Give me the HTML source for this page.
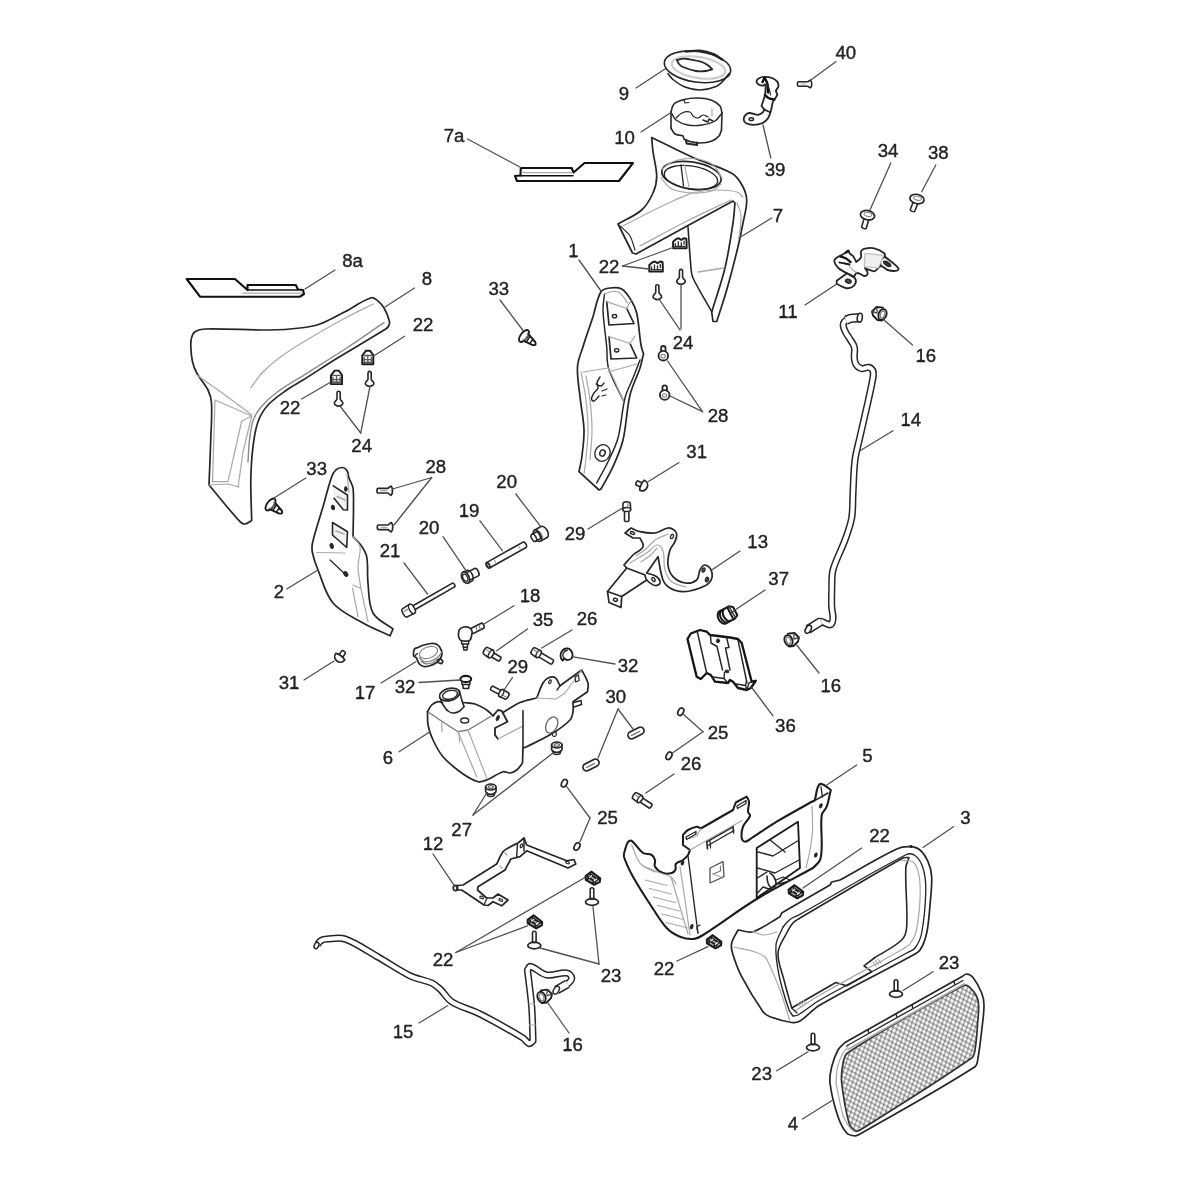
<!DOCTYPE html>
<html><head><meta charset="utf-8"><title>Parts diagram</title>
<style>
html,body{margin:0;padding:0;background:#fff;}
svg{display:block;filter:blur(0.4px)}
text{font-family:"Liberation Sans",sans-serif;font-size:18.6px;fill:#232323;stroke:#232323;stroke-width:0.4px;}
</style></head><body>
<svg width="1200" height="1200" viewBox="0 0 1200 1200" stroke-linejoin="round" stroke-linecap="round">
<defs>
<pattern id="meshA" width="10" height="4.5" patternUnits="userSpaceOnUse" patternTransform="rotate(29)">
<path d="M0 2.2H10" stroke="#000" stroke-opacity="0.34" stroke-width="1.5" fill="none"/>
</pattern>
<pattern id="meshB" width="10" height="4.1" patternUnits="userSpaceOnUse" patternTransform="rotate(109)">
<path d="M0 2H10" stroke="#000" stroke-opacity="0.34" stroke-width="1.5" fill="none"/>
</pattern>
</defs>
<rect width="1200" height="1200" fill="#fff"/>
<ellipse cx="697.5" cy="66.8" rx="33.5" ry="15.3" fill="none" stroke="#262626" stroke-width="1.59" transform="rotate(8 697.5 66.8)"/>
<ellipse cx="698.5" cy="67.5" rx="27" ry="10.5" fill="none" stroke="#cdcdcd" stroke-width="2.2" transform="rotate(9 698.5 67.5)"/>
<path d="M677 60C678.7 59.6 680.3 59 682 58.8C684 58.6 686 58.7 688 59C692.7 59.8 697.5 60.5 702 62C704.5 62.8 706.8 64.4 709 66C710.2 66.9 711 68.2 712 69.3" fill="none" stroke="#262626" stroke-width="1.83" />
<path d="M677 60C677.7 61.3 678 62.9 679 64C680.1 65.3 681.5 66.4 683 67C687.2 68.7 691.5 70.2 696 71C699.3 71.6 702.7 71.4 706 71C708.1 70.8 710 69.9 712 69.3" fill="none" stroke="#262626" stroke-width="1.83" />
<path d="M668 73.5C669.7 75.5 671 77.9 673 79.5C676.7 82.4 680.6 85.3 685 87C689.8 88.8 694.9 90.1 700 90C705.5 89.9 711 88.6 716 86.5C719.2 85.2 721.6 82.4 724 80C725.9 78.1 727.3 75.7 729 73.5" fill="none" stroke="#262626" stroke-width="1.59" />
<path d="M686 51.5C690.7 51.3 695.4 50.3 700 50.8C704.8 51.3 709.5 52.7 714 54.5C716.9 55.7 719.3 57.8 722 59.5" fill="none" stroke="#262626" stroke-width="2.44" />
<path d="M671 112C672 109.3 671.9 106 674 104C676.6 101.5 680.5 100.4 684 99.5C688.2 98.4 692.6 97.9 697 98C701.7 98.1 706.5 98.5 711 100C714.4 101.2 717.7 103.2 720 106C721.6 107.9 721.3 110.7 722 113" fill="none" stroke="#262626" stroke-width="1.59" />
<path d="M671 112C672.7 114.7 673.5 118.1 676 120C679.4 122.6 683.7 124.2 688 125C692.6 125.9 697.4 125.7 702 125C706.5 124.3 711.1 123.3 715 121C718 119.2 719.7 115.7 722 113" fill="none" stroke="#262626" stroke-width="1.34" />
<path d="M671 112L671 128" fill="none" stroke="#262626" stroke-width="1.59" />
<path d="M722 113L721.5 130" fill="none" stroke="#262626" stroke-width="1.59" />
<path d="M671 128C672.3 130 673 132.7 675 134C677.3 135.5 680.6 134.7 683 136C683.9 136.5 683.2 138.3 684 139C685.7 140.3 687.9 141 690 141.5C693.3 142.3 696.6 143.1 700 143C704.1 142.9 708.2 142.4 712 141C714.7 140 717.1 138.2 719 136C720.4 134.4 720.7 132 721.5 130" fill="none" stroke="#262626" stroke-width="1.59" />
<path d="M686 140L686.5 143.5L697 145L697 142.5" fill="none" stroke="#262626" stroke-width="1.95" />
<path d="M676 118C678 116.3 679.6 114 682 113C684.5 111.9 687.4 111.3 690 112C691.6 112.4 691.7 115 693 116C694.4 117.1 696.2 118.2 698 118C699.9 117.8 701.1 115.2 703 115C704.8 114.8 706.3 116.3 708 117" fill="none" stroke="#262626" stroke-width="1.22" />
<path d="M703 120L708 122L709 119L713 121" fill="none" stroke="#262626" stroke-width="1.46" />
<path d="M684 100L685 103L689 102.5" fill="none" stroke="#262626" stroke-width="1.22" />
<path d="M712 109L712 116" fill="none" stroke="#a9a9a9" stroke-width="1.22" />
<path d="M651.7 137.5C665.5 144.2 679 151.3 693 157.5C705.7 163.2 719.5 166.5 731.7 173.3C736.2 175.8 739.5 180.5 742 185C744.6 189.6 746.6 194.8 746.7 200C746.9 207.8 744.4 215.4 743 223C741.5 230.9 739.9 238.9 738 246.7C734.5 261.2 730.8 275.7 726.7 290C723.7 300.6 720 311 716.7 321.5L713 321.5L711.7 312C716.1 297.3 721.4 282.9 725 268C728.5 253.2 730.7 238.1 733 223C734 216.4 734.3 209.7 735 203L733 201C718 209.2 703 217.3 688 225.5C670.7 235 653.3 244.5 636 254L632.5 253L618 224C625.9 219.3 634.8 216.1 641.7 210C646.8 205.5 650.2 199.2 653 193C655.3 187.9 656.7 182.3 656.7 176.7C656.7 168.3 654.1 160.1 653 151.7C652.4 147 652.1 142.2 651.7 137.5Z" fill="none" stroke="#262626" stroke-width="1.71" />
<path d="M688 226.7C689 240.5 689.7 254.3 691 268C691.3 271.4 691.5 274.9 693 278C698.5 289.6 705.5 300.5 711.7 311.7" fill="none" stroke="#262626" stroke-width="1.59" />
<ellipse cx="691.5" cy="175.5" rx="30" ry="13.5" fill="none" stroke="#262626" stroke-width="1.71" transform="rotate(9 691.5 175.5)"/>
<ellipse cx="691" cy="177.5" rx="27" ry="11.5" fill="none" stroke="#262626" stroke-width="1.34" transform="rotate(9 691 177.5)"/>
<path d="M662.5 169C665.7 166.7 668.3 163.3 672 162C678.4 159.7 685.2 158.2 692 158.5C698.9 158.8 706.2 160.2 712 164C716.8 167.1 718.7 173.3 722 178" fill="none" stroke="#a9a9a9" stroke-width="1.22" />
<path d="M681 165L683.5 186" fill="none" stroke="#262626" stroke-width="1.34" />
<path d="M684.5 165L689 187" fill="none" stroke="#a9a9a9" stroke-width="1.22" />
<path d="M661 178C664.7 181.7 667.3 186.8 672 189C678.5 192 685.9 192.6 693 193C699.4 193.3 705.9 192.9 712 191C715.6 189.8 718 186.3 721 184" fill="none" stroke="#a9a9a9" stroke-width="1.22" />
<path d="M623 226C631.3 221.7 639.6 217.2 648 213C656.3 208.9 664.6 204.8 673 201C679.6 198 686.3 195.3 693 192.5" fill="none" stroke="#a9a9a9" stroke-width="1.22" />
<path d="M693 192.5C700.3 191.7 707.6 190.1 715 190C722.4 189.9 729.9 190.2 737 192C739.5 192.6 741 195.3 743 197" fill="none" stroke="#a9a9a9" stroke-width="1.22" />
<path d="M640 246C655.7 237.7 671.2 229 687 221C701.5 213.7 716.3 207 731 200" fill="none" stroke="#a9a9a9" stroke-width="1.22" />
<path d="M620 226C623.3 229.3 627.5 232 630 236C632.6 240.2 633.3 245.3 635 250" fill="none" stroke="#262626" stroke-width="1.22" />
<path d="M698 272L724 268" fill="none" stroke="#a9a9a9" stroke-width="1.46" />
<path d="M737 203C738.3 207 740.8 210.8 741 215C741.4 222.7 739.7 230.3 739 238" fill="none" stroke="#a9a9a9" stroke-width="1.22" />
<path d="M520.8 168L571.7 168L573.5 172.5L584.5 163L633 163L619 181L517 181L515 176L520.5 175.5Z" fill="none" stroke="#111" stroke-width="2.13" />
<path d="M521.5 172.7L572 172.7" fill="none" stroke="#a9a9a9" stroke-width="1.22" />
<path d="M520.5 175.8L573 175.8" fill="none" stroke="#111" stroke-width="1.59" />
<path d="M186.7 279L235 279L247.5 290L247.5 285L295.8 285L298 289.5L303 290L304 294L300 296.7L200 296.7Z" fill="none" stroke="#111" stroke-width="2.13" />
<path d="M247.5 290L298 290" fill="none" stroke="#111" stroke-width="1.59" />
<path d="M243 293.2L302 293.2" fill="none" stroke="#a9a9a9" stroke-width="1.22" />
<path d="M371.3 297.8C361.8 300.8 353.8 307.2 345 311.7C336.7 315.9 328.7 320.8 320 324C313.6 326.3 306.8 327.2 300 328C290 329.2 280 329.9 270 330C248.3 330.2 226.7 328.5 205 329C201.5 329.1 197.9 329.8 195 331.7C193 333 192.1 335.7 191.5 338C190.7 340.8 190.7 343.8 190.8 346.7C191 351.7 191.4 356.8 192.5 361.7C193.4 365.6 194.8 369.5 196.7 373C200 379 205 383.9 208 390C210 394 211.2 398.5 211.5 403C212.2 414.6 211.2 426.3 210.8 438C210.3 453.7 209.6 469.3 209 485C219.3 497.2 229.1 509.9 240 521.7C241.2 523 243.2 524.2 245 524C247.5 523.7 249.5 521.7 251.7 520.5C251.4 507 250.6 493.5 250.8 480C251 468.9 251.6 457.7 253 446.7C254 438.3 255.1 429.7 258 421.7C260.2 415.6 263.6 409.8 268 405C273.4 399.1 280.2 394.6 286.7 390C291.9 386.3 297.6 383.4 303 380C314.3 372.9 325.4 365.5 336.7 358.5C352.8 348.6 369.3 339.3 385.3 329.3C386.6 328.5 387.9 327.4 388.6 326C389.3 324.6 389.8 322.8 389.4 321.2C388.3 316.7 386.5 312.3 384.2 308.3C382.7 305.6 380.7 303.2 378.3 301.3C376.3 299.7 373.8 297 371.3 297.8Z" fill="none" stroke="#262626" stroke-width="1.71" />
<path d="M384 322.7C371.6 331.1 359.3 339.8 346.7 348C333.5 356.6 320 364.9 306.7 373.3C296.9 379.5 286.7 385.1 277.3 392C271.5 396.3 266 401.2 261.3 406.7C257.9 410.6 255 415.1 253.3 420C251 426.4 250.3 433.3 249.5 440C248.6 447.3 248.5 454.7 248 462" fill="none" stroke="#8c8c8c" stroke-width="1.46" />
<path d="M250.7 388C254.5 383 257.7 377.5 262 373C267.5 367.2 273.6 362 280 357.3C288.5 351 297.6 345.5 306.7 340C319.8 332.1 333.2 324.6 346.7 317.3C355.4 312.6 364.4 308.4 373.3 304" fill="none" stroke="#a9a9a9" stroke-width="1.22" />
<path d="M196.7 375C206.1 381.7 215.7 388.2 225 395C234 401.5 242.8 408.3 251.7 415" fill="none" stroke="#a9a9a9" stroke-width="1.22" />
<path d="M215 400L251.7 416L241.7 421L228 481.7L212.5 481.7L215 400" fill="none" stroke="#a9a9a9" stroke-width="1.22" />
<path d="M251.7 416L243 452L238 487" fill="none" stroke="#a9a9a9" stroke-width="1.22" />
<path d="M209 485L228 484L239 487" fill="none" stroke="#a9a9a9" stroke-width="1.22" />
<path d="M601 291.7C602.7 288.9 606.8 288.4 610 288C613.9 287.5 618.3 287.1 621.7 289C625.9 291.4 628.5 295.9 631 300C633.5 304 635.7 308.4 636.7 313C639 323.5 639.2 334.4 641 345C641.5 348.1 642.7 351 643.5 354C642.3 358.7 641.5 363.4 640 368C637 377.1 632.2 385.7 630 395C626.5 409.8 626.5 425.2 623 440C620.8 449.2 616.9 458 613 466.7C609.5 474.4 605 481.6 601 489L599 490L579 471.7C579.9 467.1 581.1 462.6 581.7 458C582.8 448.7 584.3 439.4 584 430C583.7 418.8 581.1 407.8 580 396.7C579 386.7 576.9 376.7 577.5 366.7C577.9 359.8 581 353.3 583 346.7C586.1 336.6 589.7 326.7 593 316.7C595.7 308.4 596.5 299.2 601 291.7Z" fill="none" stroke="#262626" stroke-width="1.71" />
<path d="M604.5 294C604 299.3 602.8 304.6 603 310C603.5 322.3 605.5 334.5 606.7 346.7C607.4 353.8 606.4 361.2 608.5 368C611.9 379.2 618.2 389.3 623 400" fill="none" stroke="#262626" stroke-width="1.46" />
<path d="M604.5 294C607 293.2 609.4 291.7 612 291.5C614.7 291.3 617.8 291.4 620 293C623.3 295.5 625 299.7 627.5 303" fill="none" stroke="#a9a9a9" stroke-width="1.22" />
<path d="M640 360C637.7 366 635.4 372 633 378C630.4 384.7 626.7 391 625 398C621.7 411.1 621.5 424.9 618 438C615.8 446.3 611.7 453.9 608 461.7C604.6 469 600.5 475.9 596.7 483" fill="none" stroke="#262626" stroke-width="1.46" />
<path d="M581 372C582.7 381.3 584.9 390.6 586 400C587.2 409.9 588 420 588 430C588 439.4 586.8 448.7 586 458C585.5 463.4 584.7 468.7 584 474" fill="none" stroke="#a9a9a9" stroke-width="1.22" />
<path d="M586 376C587.3 384 589.1 391.9 590 400C591.1 410 592 420 592 430C592 440 590.7 450 590 460" fill="none" stroke="#a9a9a9" stroke-width="1.22" />
<path d="M583 372L608 368" fill="none" stroke="#a9a9a9" stroke-width="1.22" />
<path d="M608 372L637 364" fill="none" stroke="#a9a9a9" stroke-width="1.22" />
<path d="M608.5 368L616 384L623 400" fill="none" stroke="#a9a9a9" stroke-width="1.22" />
<path d="M606.7 301.7L609 325L634 323.5L626.7 308.5" fill="none" stroke="#262626" stroke-width="1.71" />
<path d="M606.7 301.7L626.7 308.5" fill="none" stroke="#a9a9a9" stroke-width="1.22" />
<path d="M626.7 308.5L631 300.5" fill="none" stroke="#a9a9a9" stroke-width="1.22" />
<ellipse cx="614.5" cy="316.2" rx="2.2" ry="1.7" fill="none" stroke="#262626" stroke-width="1.34"/>
<path d="M609 336.7L611 359L636.7 358L630 343.5" fill="none" stroke="#262626" stroke-width="1.71" />
<path d="M609 336.7L630 343.5" fill="none" stroke="#a9a9a9" stroke-width="1.22" />
<path d="M630 343.5L635 336" fill="none" stroke="#a9a9a9" stroke-width="1.22" />
<ellipse cx="616.7" cy="350.3" rx="2.2" ry="1.7" fill="none" stroke="#262626" stroke-width="1.34"/>
<path d="M600 377C599 379 597.4 380.8 597 383C596.7 384.7 598.5 386.4 598 388C597.4 390 595.1 391.2 594 393C592.9 394.9 591.5 396.8 591.5 399C591.5 400.1 593 401.4 594 401C596.2 400.1 597.3 397.7 599 396" fill="none" stroke="#262626" stroke-width="1.46" />
<path d="M596 384C597.7 384.7 599.2 386.2 601 386C602.4 385.8 603 384 604 383" fill="none" stroke="#262626" stroke-width="1.34" />
<path d="M602 391L607 389" fill="none" stroke="#262626" stroke-width="1.22" />
<path d="M602 396L606 395" fill="none" stroke="#262626" stroke-width="1.22" />
<ellipse cx="602.5" cy="453" rx="7.5" ry="8.5" fill="none" stroke="#262626" stroke-width="1.34" transform="rotate(25 602.5 453)"/>
<ellipse cx="602.5" cy="453" rx="2.6" ry="3.2" fill="none" stroke="#262626" stroke-width="1.46" transform="rotate(25 602.5 453)"/>
<path d="M341.7 467.5C343.6 467.5 345.6 468.5 346.7 470C348.3 472.3 348.1 475.4 349 478C350.2 481.4 352.5 484.4 353 488C354 495.9 353.3 504 353.5 512L353 536.7C355.6 539.5 358.7 541.9 360.8 545C363.3 548.6 365.9 552.4 366.7 556.7C368.3 565.3 367 574.3 368 583C369.1 593.1 368.2 604.1 373 613C377.1 620.5 386.3 623.7 393 629L390 635.8C381 631.5 371.6 628 363 623C352.6 617 340.8 612.2 333 603C325.2 593.8 322.6 581.2 318 570C315.7 564.5 313.7 558.8 312.5 553C311.8 549.7 311.8 546.3 312.5 543C315.3 530.7 319.5 518.8 323 506.7C325.9 496.7 328.3 486.5 331.7 476.7C332.6 474.2 333.9 471.8 335.8 470C337.4 468.6 339.6 467.5 341.7 467.5Z" fill="none" stroke="#262626" stroke-width="1.71" />
<path d="M333.3 485.8L347.5 495L347.5 510L343.3 509.7L334 498.3" fill="#f1f1f1" stroke="#262626" stroke-width="1.59" />
<path d="M337 496.5L345 500" fill="none" stroke="#a9a9a9" stroke-width="1.46" />
<path d="M332.5 522.5L347.5 531.7L346.7 547.5L332.5 535Z" fill="#f1f1f1" stroke="#262626" stroke-width="1.59" />
<path d="M336 531L344 534" fill="none" stroke="#a9a9a9" stroke-width="1.46" />
<ellipse cx="333" cy="507.5" rx="1.5" ry="2.3" fill="#262626" stroke="#262626" stroke-width="0.98" transform="rotate(-15 333 507.5)"/>
<ellipse cx="331.7" cy="546" rx="1.6" ry="2.5" fill="#262626" stroke="#262626" stroke-width="0.98" transform="rotate(-15 331.7 546)"/>
<ellipse cx="345.8" cy="574" rx="1.8" ry="2.6" fill="#262626" stroke="#262626" stroke-width="0.98" transform="rotate(-35 345.8 574)"/>
<ellipse cx="345.8" cy="489" rx="1.3" ry="2.4" fill="#262626" stroke="#262626" stroke-width="0.98"/>
<path d="M316.7 552.5L345 553" fill="none" stroke="#a9a9a9" stroke-width="1.22" />
<path d="M330 560L345 574" fill="none" stroke="#262626" stroke-width="1.22" />
<path d="M353 536.7C355.3 540 359.3 542.7 360 546.7C361.1 553.3 357.9 560 358 566.7C358.1 573.9 359.9 580.9 360.8 588" fill="none" stroke="#a9a9a9" stroke-width="1.22" />
<path d="M353 585L360 588" fill="none" stroke="#a9a9a9" stroke-width="1.22" />
<path d="M352.5 588L358 616.7" fill="none" stroke="#a9a9a9" stroke-width="1.22" />
<path d="M360.8 588L368 621.7" fill="none" stroke="#a9a9a9" stroke-width="1.22" />
<path d="M347 474L349 492" fill="none" stroke="#a9a9a9" stroke-width="1.22" />
<path d="M625 533L631 528C634 529.2 636.8 531 640 531.7C644.9 532.7 650 533.7 655 533C659.6 532.4 663.4 528.7 668 528C670.1 527.7 672.3 528.8 674 530C675.3 530.9 676.6 532.4 676.7 534C676.9 536.6 676 539.3 675 541.7C673.8 544.7 670.9 546.9 670 550C668.5 554.8 667.4 560 668 565C668.5 569.2 670.1 573.6 673 576.7C676.1 580 680.5 582.4 685 583C689 583.6 693.7 582.6 696.7 580C699.4 577.7 698.3 573.1 700 570C701.1 567.9 702.7 564.7 705 565C708.1 565.5 710.8 568.7 711.7 571.7C712.7 574.9 712 579 710 581.7C707.7 584.9 703.7 586.6 700 588C694.6 590 688.8 591.7 683 591.7C678.5 591.7 673.9 590.3 670 588C666.9 586.2 664.3 583.3 663 580C660.2 572.6 659.7 564.5 658 556.7L646.7 573C650 574.2 653.9 574.6 656.7 576.7C658.6 578.1 660.4 580.7 660 583C659.6 584.8 656.8 585.9 655 585.5C651.8 584.8 649 582.4 646.7 580C645.5 578.7 645.6 576.7 645 575L626.7 568L624 565C627 561.7 629.8 558.1 633 555C636.1 552 641.4 550.7 643 546.7C644.2 543.9 641 540.9 640 538L633 538L625 533Z" fill="none" stroke="#262626" stroke-width="1.71" />
<path d="M636 556C639.3 553.7 642.9 551.6 646 549C649.2 546.3 651.5 542.4 655 540C658.9 537.3 663.7 536 668 534" fill="none" stroke="#a9a9a9" stroke-width="1.22" />
<path d="M630 563C636 559.3 642.1 555.9 648 552C651.2 549.9 653.2 545.3 657 545C659.8 544.8 662.1 548.3 663 551C664.9 557.1 663.2 563.9 665 570C666.3 574.4 668.4 579.1 672 582C675.9 585.1 681.3 585.3 686 587" fill="none" stroke="#a9a9a9" stroke-width="1.22" />
<path d="M641 562C644.7 559.3 648.6 557 652 554C654 552.3 655.3 550 657 548" fill="none" stroke="#a9a9a9" stroke-width="1.22" />
<path d="M626.7 568L607.5 591.5" fill="none" stroke="#262626" stroke-width="1.71" />
<path d="M607.5 591.5L609 602.5L621 607.5L621.7 596.5Z" fill="none" stroke="#262626" stroke-width="1.71" />
<path d="M646.7 580L621.7 596.5" fill="none" stroke="#262626" stroke-width="1.71" />
<ellipse cx="615.5" cy="599.8" rx="2" ry="1.5" fill="none" stroke="#262626" stroke-width="1.46" transform="rotate(20 615.5 599.8)"/>
<ellipse cx="632.5" cy="533" rx="2.2" ry="1.3" fill="none" stroke="#262626" stroke-width="1.34" transform="rotate(20 632.5 533)"/>
<ellipse cx="672" cy="536.5" rx="1.4" ry="2.2" fill="none" stroke="#262626" stroke-width="1.34" transform="rotate(20 672 536.5)"/>
<ellipse cx="653.5" cy="579.5" rx="1.4" ry="2.2" fill="none" stroke="#262626" stroke-width="1.34" transform="rotate(-30 653.5 579.5)"/>
<ellipse cx="703.5" cy="570" rx="1.3" ry="2.2" fill="#555" stroke="#262626" stroke-width="1.34" transform="rotate(20 703.5 570)"/>
<ellipse cx="707" cy="579.5" rx="1.5" ry="2.3" fill="#555" stroke="#262626" stroke-width="1.34" transform="rotate(20 707 579.5)"/>
<path d="M687.5 639L690.8 633.5L700 630L706.7 631.7L710 635L730 637.5L738 639L741.7 643L751.7 681.7L755.8 680.8L750.8 688L746.7 690L738 688L733 681.7L730 680L728 683L715 681.7L710.8 675L706.7 673L700.8 679L696.7 676.7Z" fill="none" stroke="#151515" stroke-width="2.32" />
<path d="M697.5 632.5L706.7 673" fill="none" stroke="#262626" stroke-width="1.46" />
<path d="M710.5 635.5L711 643L717 646.5L722.5 670" fill="none" stroke="#262626" stroke-width="1.46" />
<path d="M726.7 638L729 647.5L725.5 648L730 670" fill="none" stroke="#262626" stroke-width="1.46" />
<path d="M738 640L747 683" fill="none" stroke="#262626" stroke-width="1.46" />
<path d="M713 677L724 678.5L728 683" fill="none" stroke="#262626" stroke-width="1.34" />
<path d="M724 678.5L724.5 672" fill="none" stroke="#262626" stroke-width="1.34" />
<path d="M736 684L745.5 685.5L746.7 690" fill="none" stroke="#262626" stroke-width="1.34" />
<path d="M745.5 685.5L746.5 681" fill="none" stroke="#262626" stroke-width="1.34" />
<path d="M746.7 690L749 683L751.7 681.7" fill="none" stroke="#262626" stroke-width="1.34" />
<ellipse cx="718" cy="640.8" rx="1.6" ry="1.9" fill="#262626" stroke="#262626" stroke-width="0.98"/>
<path d="M725.7 670.2L728.3 670.2L728.6 672.6L726 672.6Z" fill="#262626" stroke="#262626" stroke-width="0.98" />
<path d="M427.5 711.7C428.9 709.5 429.8 706.8 431.7 705C433.4 703.4 435.7 702.2 438 701.7C439.5 701.4 441 702.2 442.5 702.5" fill="none" stroke="#262626" stroke-width="1.71" />
<path d="M463.5 702.5C467.3 703 471.3 702.8 475 704C479.2 705.3 483 707.6 486.7 710C489.1 711.6 490.9 713.9 493 715.8" fill="none" stroke="#262626" stroke-width="1.71" />
<path d="M427.5 711.7C427.7 716.1 427.2 720.6 428 725C429 730.2 430.7 735.2 433 740C435.8 745.9 438.7 751.8 443 756.7C448.4 762.9 455 768.2 461.7 773C466.7 776.6 472.1 780 478 781.7C480.8 782.5 484 781.1 486.7 780C492.4 777.7 497.2 773.5 503 771.7C505.3 771 507.6 773.3 510 773C512.4 772.7 514.8 771.5 516.7 770C519.1 768.1 520.6 765.3 522.5 763L523 748" fill="none" stroke="#262626" stroke-width="1.71" />
<ellipse cx="449.5" cy="694.5" rx="10.2" ry="6" fill="none" stroke="#262626" stroke-width="1.71" transform="rotate(-14 449.5 694.5)"/>
<ellipse cx="450" cy="694.8" rx="7.6" ry="4.2" fill="none" stroke="#262626" stroke-width="1.34" transform="rotate(-14 450 694.8)"/>
<path d="M440.5 699C441 700.3 441.3 701.8 442 703C443.4 705.4 445.1 707.7 446.7 710" fill="none" stroke="#262626" stroke-width="1.59" />
<path d="M459.5 691C460.2 693.7 460.7 696.4 461.5 699C462.2 701.6 463.2 704.1 464 706.7" fill="none" stroke="#262626" stroke-width="1.59" />
<path d="M446.7 710C448.5 711 450 712.8 452 713C454.4 713.3 456.9 712.6 459 711.5C461 710.4 462.3 708.3 464 706.7" fill="none" stroke="#262626" stroke-width="1.46" />
<path d="M429 712.5C433.7 715.7 438.3 718.9 443 722C448 725.3 453 728.5 458 731.7L468 730C472 727.7 476 725.4 480 723C483.5 720.9 487 718.7 490.5 716.5" fill="none" stroke="#777" stroke-width="1.34" />
<path d="M458 731.7L476.7 776.7" fill="none" stroke="#a9a9a9" stroke-width="1.22" />
<path d="M468 730L486.7 778" fill="none" stroke="#a9a9a9" stroke-width="1.22" />
<path d="M441.7 722L442 732" fill="none" stroke="#a9a9a9" stroke-width="1.22" />
<path d="M459 733L459.5 742" fill="none" stroke="#a9a9a9" stroke-width="1.22" />
<ellipse cx="464.7" cy="720.5" rx="4" ry="2.5" fill="none" stroke="#262626" stroke-width="1.34"/>
<path d="M493 715.8L498 710L501.7 710.8L507.5 721.7L495 728L495 735L498 739" fill="none" stroke="#262626" stroke-width="1.83" />
<path d="M498 739L523 726" fill="none" stroke="#a9a9a9" stroke-width="1.22" />
<ellipse cx="497.8" cy="718" rx="1.2" ry="2.6" fill="#262626" stroke="#262626" stroke-width="0.98" transform="rotate(25 497.8 718)"/>
<path d="M523 710.8L523 748" fill="none" stroke="#262626" stroke-width="1.59" />
<path d="M503 712.5C508.7 709.2 514 705.1 520 702.5C525.3 700.2 531.1 699.5 536.7 698C538.8 693 540.3 687.7 543 683C544.2 680.9 545.9 679 548 678C550.1 677 553 676.2 555 677.5C557.7 679.3 558.3 683 560 685.8L581.7 670C583.8 674.3 586.8 678.3 588 683C588.8 685.8 587.7 688.8 587.5 691.7L573 701.7C573 705 573.5 708.4 573 711.7C572.5 714.6 572 717.9 570 720C565.1 725.2 559.1 729.3 553 733C544.6 738.2 535.5 742.3 526.7 746.7C525.5 747.3 524.2 747.6 523 748" fill="none" stroke="#262626" stroke-width="1.71" />
<path d="M574 702.5L581 700.5L581.5 704.5L574 707" fill="none" stroke="#262626" stroke-width="1.46" />
<path d="M536.7 698L556 699L565 693L581.7 670" fill="none" stroke="#a9a9a9" stroke-width="1.22" />
<path d="M560 685.8L557 690" fill="none" stroke="#262626" stroke-width="1.34" />
<ellipse cx="551.7" cy="725" rx="5.5" ry="8.5" fill="none" stroke="#666" stroke-width="1.34" transform="rotate(25 551.7 725)"/>
<ellipse cx="550" cy="681.7" rx="1.1" ry="2" fill="none" stroke="#262626" stroke-width="1.22" transform="rotate(25 550 681.7)"/>
<path d="M575 676.5L578.5 675L579.2 680.5L575.7 682Z" fill="none" stroke="#262626" stroke-width="1.22" />
<path d="M552 733C552.3 734 552.1 735.4 553 736C553.9 736.5 555.4 736.3 556 735.5C556.7 734.4 556 732.8 556 731.5" fill="none" stroke="#262626" stroke-width="1.22" />
<path d="M457 885.5L463 885L496.7 864C498.8 859.9 500.2 855.3 503 851.7C504.7 849.5 507.6 848.4 510 847C512.6 845.5 515.3 844.3 518 843L524 838L526.7 845L566.7 860.8L574 859.5L575.8 864L568 868L526.7 850.8L520 856.7L510.8 859L505 870L478 886.7L477.5 890L486.7 898L493 898L498 894L508 900L501.7 905.8L493 901.7L488 905.5L484 905L461.7 890L457 890L457 885.5Z" fill="none" stroke="#262626" stroke-width="1.71" />
<path d="M517.5 844L516.7 856.5" fill="none" stroke="#262626" stroke-width="1.46" />
<path d="M524 838L524 851" fill="none" stroke="#262626" stroke-width="1.46" />
<ellipse cx="455.5" cy="888" rx="2.3" ry="2.6" fill="none" stroke="#262626" stroke-width="1.59"/>
<ellipse cx="521.5" cy="845.8" rx="1.1" ry="2" fill="none" stroke="#262626" stroke-width="1.22" transform="rotate(25 521.5 845.8)"/>
<ellipse cx="567.5" cy="862.5" rx="2" ry="1.1" fill="none" stroke="#262626" stroke-width="1.22" transform="rotate(25 567.5 862.5)"/>
<ellipse cx="500.8" cy="900" rx="2" ry="1.1" fill="none" stroke="#262626" stroke-width="1.22" transform="rotate(25 500.8 900)"/>
<ellipse cx="481.7" cy="897.5" rx="2" ry="1.1" fill="none" stroke="#262626" stroke-width="1.22" transform="rotate(25 481.7 897.5)"/>
<path d="M484 905L487 898" fill="none" stroke="#262626" stroke-width="1.22" />
<path d="M505 853L507 855" fill="none" stroke="#a9a9a9" stroke-width="1.22" />
<path d="M500 866L502 868" fill="none" stroke="#a9a9a9" stroke-width="1.22" />
<path d="M859 317.8C856 318 852.9 317.8 850 318.5C848 319 845.9 319.9 844.5 321.5C843.5 322.7 843.1 324.5 843.3 326C843.6 328.5 844.9 330.8 846 333C847 334.9 848.4 336.6 849.5 338.5C851.2 341.3 853.5 343.8 854.3 347C855.2 350.6 853.9 354.4 854.3 358C854.5 360.2 854.7 362.6 856 364.5C857.3 366.4 859.3 368.1 861.5 368.6C863.9 369.1 866.3 367 868.7 367.3C870.2 367.5 871.7 368.7 872.5 370C873.4 371.4 873.4 373.3 873.3 375C873.2 377.7 872.5 380.4 872 383C870.8 389.3 869.4 395.5 868 401.7C865.4 413.4 862.6 425 860 436.7C858.3 444.5 856 452.1 855 460C853.6 470.9 853.6 482 853 493C852.5 501.3 853.1 509.8 851.7 518C850.4 525.6 847.6 532.8 845 540C841.4 550.1 835.8 559.6 833 570C831.3 576.5 832.1 583.3 831.7 590" fill="none" stroke="#262626" stroke-width="7.2" stroke-linecap="butt" stroke-linejoin="round"/>
<path d="M859 317.8C856 318 852.9 317.8 850 318.5C848 319 845.9 319.9 844.5 321.5C843.5 322.7 843.1 324.5 843.3 326C843.6 328.5 844.9 330.8 846 333C847 334.9 848.4 336.6 849.5 338.5C851.2 341.3 853.5 343.8 854.3 347C855.2 350.6 853.9 354.4 854.3 358C854.5 360.2 854.7 362.6 856 364.5C857.3 366.4 859.3 368.1 861.5 368.6C863.9 369.1 866.3 367 868.7 367.3C870.2 367.5 871.7 368.7 872.5 370C873.4 371.4 873.4 373.3 873.3 375C873.2 377.7 872.5 380.4 872 383C870.8 389.3 869.4 395.5 868 401.7C865.4 413.4 862.6 425 860 436.7C858.3 444.5 856 452.1 855 460C853.6 470.9 853.6 482 853 493C852.5 501.3 853.1 509.8 851.7 518C850.4 525.6 847.6 532.8 845 540C841.4 550.1 835.8 559.6 833 570C831.3 576.5 832.1 583.3 831.7 590" fill="none" stroke="#fff" stroke-width="4.2" stroke-linecap="butt" stroke-linejoin="round"/>
<path d="M831.7 590C831.7 595.6 831.4 601.1 831.7 606.7C831.9 610.5 833.1 614.2 833 618C832.9 620.3 832.8 623.1 831 624.5C829.7 625.6 827.6 623.9 826 623.5C824 622.9 822 620.9 820 621.5C815.8 622.7 812.7 626.2 809 628.5" fill="none" stroke="#262626" stroke-width="7.2" stroke-linecap="butt" stroke-linejoin="round"/>
<path d="M831.7 590C831.7 595.6 831.4 601.1 831.7 606.7C831.9 610.5 833.1 614.2 833 618C832.9 620.3 832.8 623.1 831 624.5C829.7 625.6 827.6 623.9 826 623.5C824 622.9 822 620.9 820 621.5C815.8 622.7 812.7 626.2 809 628.5" fill="none" stroke="#fff" stroke-width="4.2" stroke-linecap="butt" stroke-linejoin="round"/>
<path d="M859.5 317.7C856.7 317.9 853.8 317.8 851 318.3C849.2 318.6 847.7 319.6 846 320.3" fill="none" stroke="#262626" stroke-width="9.4" stroke-linecap="butt" stroke-linejoin="round"/>
<path d="M859.5 317.7C856.7 317.9 853.8 317.8 851 318.3C849.2 318.6 847.7 319.6 846 320.3" fill="none" stroke="#fff" stroke-width="6.4" stroke-linecap="butt" stroke-linejoin="round"/>
<path d="M808 629.5C812.3 626.8 816.7 624 821 621.3" fill="none" stroke="#262626" stroke-width="9.2" stroke-linecap="butt" stroke-linejoin="round"/>
<path d="M808 629.5C812.3 626.8 816.7 624 821 621.3" fill="none" stroke="#fff" stroke-width="6.199999999999999" stroke-linecap="butt" stroke-linejoin="round"/>
<ellipse cx="859.8" cy="317.7" rx="2.5" ry="4.5" fill="#fff" stroke="#262626" stroke-width="1.59" transform="rotate(8 859.8 317.7)"/>
<ellipse cx="808.3" cy="629.3" rx="2.6" ry="4.4" fill="#fff" stroke="#262626" stroke-width="1.59" transform="rotate(30 808.3 629.3)"/>
<path d="M317.5 944.5C318.7 943.2 319.5 941.4 321 940.5C322.8 939.5 324.9 939.1 327 939C333 938.6 339.3 937 345 939C356.8 943.2 367.1 950.8 378 957C388.8 963.1 398.9 970.4 410 975.8C416.9 979.1 424.7 979.9 431.7 983C434.8 984.4 437.5 986.7 440 989C444.2 992.9 446.8 998.6 451.7 1001.7C460.4 1007.2 470.8 1009.3 480 1014C494.6 1021.4 508.9 1029.5 523 1038C525.3 1039.4 526.4 1042.7 529 1043.5C530.5 1044 531.7 1041.8 533 1041C532.6 1029.6 532.6 1018.1 531.7 1006.7C530.7 994.4 528.9 982.2 527.5 970C528.5 968.8 529 966.1 530.5 966.5C536.4 968 540.7 973.9 546.7 975C553.3 976.2 560 972.2 566.7 973C569 973.3 571.5 975.6 571.7 978C571.9 980.4 569.4 982.4 567.5 984C565.7 985.5 563.2 986 561 987" fill="none" stroke="#262626" stroke-width="7.2" stroke-linecap="butt" stroke-linejoin="round"/>
<path d="M317.5 944.5C318.7 943.2 319.5 941.4 321 940.5C322.8 939.5 324.9 939.1 327 939C333 938.6 339.3 937 345 939C356.8 943.2 367.1 950.8 378 957C388.8 963.1 398.9 970.4 410 975.8C416.9 979.1 424.7 979.9 431.7 983C434.8 984.4 437.5 986.7 440 989C444.2 992.9 446.8 998.6 451.7 1001.7C460.4 1007.2 470.8 1009.3 480 1014C494.6 1021.4 508.9 1029.5 523 1038C525.3 1039.4 526.4 1042.7 529 1043.5C530.5 1044 531.7 1041.8 533 1041C532.6 1029.6 532.6 1018.1 531.7 1006.7C530.7 994.4 528.9 982.2 527.5 970C528.5 968.8 529 966.1 530.5 966.5C536.4 968 540.7 973.9 546.7 975C553.3 976.2 560 972.2 566.7 973C569 973.3 571.5 975.6 571.7 978C571.9 980.4 569.4 982.4 567.5 984C565.7 985.5 563.2 986 561 987" fill="none" stroke="#fff" stroke-width="4.2" stroke-linecap="butt" stroke-linejoin="round"/>
<path d="M556.5 990C560.2 987.9 563.8 985.9 567.5 983.8" fill="none" stroke="#262626" stroke-width="9.2" stroke-linecap="butt" stroke-linejoin="round"/>
<path d="M556.5 990C560.2 987.9 563.8 985.9 567.5 983.8" fill="none" stroke="#fff" stroke-width="6.199999999999999" stroke-linecap="butt" stroke-linejoin="round"/>
<ellipse cx="316.5" cy="945.5" rx="2.2" ry="3.3" fill="#fff" stroke="#262626" stroke-width="1.46" transform="rotate(25 316.5 945.5)"/>
<ellipse cx="556.3" cy="990.2" rx="2.6" ry="4.3" fill="#fff" stroke="#262626" stroke-width="1.46" transform="rotate(30 556.3 990.2)"/>
<path d="M529 1004L534.5 1004" fill="none" stroke="#a9a9a9" stroke-width="1.22" />
<path d="M529.5 1025L535 1025" fill="none" stroke="#a9a9a9" stroke-width="1.22" />
<path d="M625 850C625.7 847.3 626.3 844.3 628 842C628.8 841 630.7 840 631.7 840.8C636.2 844.1 638.5 849.8 643 853C645.4 854.7 649.1 853.5 651.7 855C653.4 856 654.5 858.1 655 860C655.6 862.1 653.8 864.8 655 866.7C656.8 869.6 659.8 871.8 663 873C665.7 874 668.9 873.8 671.7 873C673.4 872.5 674.8 871.1 675.5 869.5C676.3 867.8 674.7 865.4 675.8 864C677.5 861.8 680.8 861.6 683 860C684.9 858.6 686.6 856.9 688 855C689 853.5 689.3 851.7 690 850L683 845L683 835C684.7 833.3 686 831.2 688 830C690.7 828.4 693.6 827.1 696.7 826.7C698.2 826.5 699.4 827.9 700.8 828.5L733 810L735.8 802.5L746.7 796.7C747.5 798.4 748.8 799.9 749 801.7C749.3 805 747.8 808.4 748 811.7C748.1 813.2 750.5 814.4 750 815.8C748.6 819.9 744.5 822.7 743 826.7C741.7 830.3 741.2 834.2 741.7 838C741.9 839.6 743.3 841.7 745 841.7C747.6 841.7 749.5 839.4 751.7 838C760.1 832.7 768.2 826.8 776.7 821.7C789.3 814.1 802.2 807.2 815 800C816 795.6 816.2 790.9 818 786.7C818.6 785.3 820.2 783.6 821.7 784C825.2 784.9 827.8 788 830.8 790C829.4 795.6 828.7 801.3 826.7 806.7C825.6 809.7 822.1 811.8 821.7 815C820.4 825.5 822.1 836.1 821.7 846.7C821.5 851.2 821.7 855.9 820 860C818.7 863.3 815.3 865.3 813 868C794.2 878.3 775 887.9 756.7 899C738.3 910.2 721.3 923.5 703 935C700 936.9 696.6 938.7 693 939C688.6 939.3 684.1 938.4 680 936.7C675.1 934.7 670.3 931.9 666.7 928C660.7 921.7 656.5 914 651.7 906.7C645.2 896.9 638.7 887 633 876.7C629.5 870.3 626.1 863.7 624 856.7C623.4 854.5 624.4 852.2 625 850Z" fill="none" stroke="#1c1c1c" stroke-width="2.07" />
<path d="M813 801.7L828 793" fill="none" stroke="#262626" stroke-width="1.46" />
<path d="M821 787L822.5 797" fill="none" stroke="#262626" stroke-width="1.34" />
<path d="M688 855.8C689.7 868.9 691.3 881.9 693 895C694.6 907.7 696.3 920.3 698 933" fill="none" stroke="#262626" stroke-width="1.34" />
<path d="M680 866.7C681.7 877.8 683.4 888.9 685 900C686.7 911.7 688.3 923.3 690 935" fill="none" stroke="#a9a9a9" stroke-width="1.22" />
<path d="M698 933C697.7 931 696.5 929 697 927C697.3 925.8 699 925.7 700 925" fill="none" stroke="#262626" stroke-width="1.22" />
<path d="M631.7 845C633.8 850 635.4 855.2 638 860C639.2 862.3 640.9 864.5 643 866C646.7 868.6 651 870 655 872" fill="none" stroke="#a9a9a9" stroke-width="1.22" />
<path d="M643 866C648.7 868.3 654.3 870.8 660 873C663.6 874.4 667.8 874.8 671 877C673.4 878.6 674.3 881.7 676 884" fill="none" stroke="#a9a9a9" stroke-width="1.22" />
<path d="M671 877L688 934" fill="none" stroke="#a9a9a9" stroke-width="1.22" />
<path d="M645 880L667 885.5" fill="none" stroke="#a9a9a9" stroke-width="1.22" />
<path d="M649.2 888.5L671.2 894" fill="none" stroke="#a9a9a9" stroke-width="1.22" />
<path d="M653.4 897L675.4 902.5" fill="none" stroke="#a9a9a9" stroke-width="1.22" />
<path d="M657.6 905.5L679.6 911" fill="none" stroke="#a9a9a9" stroke-width="1.22" />
<path d="M661.8 914L683.8 919.5" fill="none" stroke="#a9a9a9" stroke-width="1.22" />
<path d="M666 922.5L688 928" fill="none" stroke="#a9a9a9" stroke-width="1.22" />
<path d="M756.7 848L798 821.7L800 868L756.7 898Z" fill="none" stroke="#1c1c1c" stroke-width="1.83" />
<path d="M758 852L773 856L797.5 841" fill="none" stroke="#262626" stroke-width="1.34" />
<path d="M770 840L785 852" fill="none" stroke="#262626" stroke-width="1.34" />
<path d="M757.5 868L775 873L799 860" fill="none" stroke="#262626" stroke-width="1.34" />
<path d="M757.5 878L767 872" fill="none" stroke="#262626" stroke-width="1.34" />
<path d="M757.5 893L763 887L772 890" fill="none" stroke="#262626" stroke-width="1.34" />
<path d="M767 876C767.3 878.3 767.1 880.8 768 883C768.8 885 769.9 887.7 772 888C773.9 888.2 775.7 885.9 776 884C776.4 881.6 775.2 879.1 774 877C773.1 875.3 771.3 874.3 770 873" fill="none" stroke="#262626" stroke-width="1.59" />
<path d="M776 880L783 877L790 880" fill="none" stroke="#262626" stroke-width="1.34" />
<path d="M779 884L786 882" fill="none" stroke="#262626" stroke-width="1.34" />
<path d="M710 868L723 861.7L724 876.7L710 883Z" fill="none" stroke="#555" stroke-width="1.34" />
<path d="M713 874L720.5 871L720.5 866" fill="none" stroke="#777" stroke-width="1.22" />
<path d="M713 874L721 877" fill="none" stroke="#a9a9a9" stroke-width="1.22" />
<path d="M706.7 841.7L733 826.7" fill="none" stroke="#262626" stroke-width="1.95" />
<path d="M708 845.5L734 830.5" fill="none" stroke="#262626" stroke-width="1.34" />
<path d="M706.7 841.7L707.5 849" fill="none" stroke="#262626" stroke-width="1.59" />
<path d="M733 826.7L733.5 833" fill="none" stroke="#262626" stroke-width="1.59" />
<path d="M710 841L710.5 848" fill="none" stroke="#262626" stroke-width="1.22" />
<path d="M690 850L742 820.5" fill="none" stroke="#a9a9a9" stroke-width="1.22" />
<path d="M700.8 828.5L697 836L690 838.5" fill="none" stroke="#a9a9a9" stroke-width="1.22" />
<path d="M686 837L696 831.5L696 834L686.5 839.5Z" fill="none" stroke="#262626" stroke-width="1.34" />
<path d="M737 806L746 800.5L746 803.5L737.5 808.5Z" fill="none" stroke="#262626" stroke-width="1.34" />
<ellipse cx="682.5" cy="863" rx="1.2" ry="2.2" fill="#262626" stroke="#262626" stroke-width="0.98" transform="rotate(25 682.5 863)"/>
<ellipse cx="691.7" cy="926.7" rx="1.2" ry="2.2" fill="#262626" stroke="#262626" stroke-width="0.98" transform="rotate(25 691.7 926.7)"/>
<ellipse cx="820.8" cy="805.8" rx="1.2" ry="2.2" fill="#262626" stroke="#262626" stroke-width="0.98" transform="rotate(25 820.8 805.8)"/>
<ellipse cx="815.8" cy="855" rx="1.2" ry="2.2" fill="#262626" stroke="#262626" stroke-width="0.98" transform="rotate(25 815.8 855)"/>
<path d="M812 806C812.2 814 812.9 822 812.5 830C812.2 836.7 811.1 843.4 810 850C809 856.1 807.3 862 806 868" fill="none" stroke="#a9a9a9" stroke-width="1.22" />
<path d="M738 930C743 930.6 748.2 933.2 753 931.7C762.8 928.6 771 921.7 780 916.7L781.7 913L786.7 910L830 885L831.7 882L840 880C858.9 869.7 877.2 858.3 896.7 849C900.8 847.1 905.5 846.5 910 846.7C913.5 846.9 917.3 847.8 920 850C923.6 853 926.1 857.4 928 861.7C930.1 866.4 931.5 871.6 931.7 876.7C932.1 886.1 930.8 895.6 930 905C929.2 914.4 928.7 923.8 926.7 933C925.4 938.9 923.5 945 920 950C917.7 953.3 913.5 954.8 910 956.7C880.2 973.1 849.4 987.8 820 1005C812.6 1009.3 807.3 1016.5 800 1021C797.6 1022.5 794.5 1022.9 791.7 1022.5C784.3 1021.4 777 1019.3 770 1016.7C767.3 1015.7 764.7 1014 763 1011.7C755.1 1000.6 748 988.8 741.7 976.7C737.8 969.2 734.9 961.1 732.5 953C731.5 949.8 730.9 946.3 731.7 943C732.8 938.3 735.9 934.3 738 930Z" fill="none" stroke="#262626" stroke-width="1.71" />
<path d="M786.7 933C788.5 929.5 790.4 925.9 793 923C794.9 920.9 797.7 919.7 800 918C834.3 898 868.3 877.3 903 858C904.8 857 907 857.7 909 857.5C907.9 861 905.9 864.3 905.8 868C905.1 887.6 907.8 907.2 906.7 926.7C906.4 931.4 905.1 936.7 901.7 940C894.1 947.4 883.9 951.7 875 957.5L864 965.8L871.7 971.7L846.7 985.8L835.8 982.5L791.7 1008C789.1 998.7 786.3 989.4 784 980C781.8 971.1 777.5 962.2 778 953C778.4 945.7 783.4 939.5 786.7 933Z" fill="none" stroke="#262626" stroke-width="1.59" />
<path d="M783 927C785.3 924.5 787.3 921.6 790 919.5C792.5 917.6 795.7 916.6 798.5 915.2C834.2 895.1 869.1 873.7 905.5 855C908.3 853.6 912.5 853.6 915 855.5C919 858.4 921.5 863.3 923 868C925.2 875.1 925.9 882.6 925.8 890C925.5 904.4 924.3 918.8 921.7 933C920.7 938.4 918.3 943.6 915 948C913.1 950.6 909.5 951.4 906.7 953C877.9 968.8 848.6 983.7 820 1000C812.3 1004.4 805.6 1010.5 798 1015C796.5 1015.9 794.7 1015.7 793 1016" fill="none" stroke="#262626" stroke-width="1.34" />
<path d="M783 927C780.7 933 776.5 938.6 776 945C775.2 955 777 965.1 779 975C781.4 986.9 785.1 998.5 789 1010C789.8 1012.3 791.7 1014 793 1016" fill="none" stroke="#262626" stroke-width="1.34" />
<path d="M902 860.5C905.7 861 910.2 859.6 913 862C916.6 865.1 918.1 870.3 919 875C920.5 883.2 920.4 891.7 920 900C919.4 910.7 918.4 921.5 916 932C915 936.4 912.7 940.4 910 944C908.3 946.3 905.5 947.6 903 949C875.5 964.6 847.4 979.3 820 995C811.4 999.9 803.3 1005.7 795 1011" fill="none" stroke="#a9a9a9" stroke-width="1.22" />
<path d="M734 947C741 948.7 748.2 949.8 755 952C758.5 953.1 762.3 954.5 765 957C767.5 959.3 768.3 963 770 966" fill="none" stroke="#a9a9a9" stroke-width="1.22" />
<path d="M770 966C773.3 974 777 981.9 780 990C783.7 1000.2 786.7 1010.7 790 1021" fill="none" stroke="#a9a9a9" stroke-width="1.22" />
<path d="M753 931.7C756.7 932.8 760.2 935 764 935C768.4 935.1 772.7 933 777 932" fill="none" stroke="#a9a9a9" stroke-width="1.22" />
<path d="M798 1003L801 1007" fill="none" stroke="#a9a9a9" stroke-width="1.22" />
<path d="M800.5 1001.6L803.5 1005.6" fill="none" stroke="#a9a9a9" stroke-width="1.22" />
<path d="M803 1000.2L806 1004.2" fill="none" stroke="#a9a9a9" stroke-width="1.22" />
<path d="M873 962L876 966" fill="none" stroke="#a9a9a9" stroke-width="1.22" />
<path d="M875.5 960.6L878.5 964.6" fill="none" stroke="#a9a9a9" stroke-width="1.22" />
<path d="M878 959.2L881 963.2" fill="none" stroke="#a9a9a9" stroke-width="1.22" />
<path d="M791.7 1008L797 1013" fill="none" stroke="#262626" stroke-width="1.22" />
<ellipse cx="911" cy="846.5" rx="1.6" ry="1" fill="#262626" stroke="#262626" stroke-width="0.98"/>
<path d="M963 985.8C964.8 984.8 967.5 985.3 969 986.7C972.9 990.4 976.8 994.8 978 1000C979.8 1008.1 978 1016.7 977.5 1025C977 1033.4 976.4 1041.8 975 1050C974.5 1052.8 974.1 1056.4 971.7 1058C935.3 1083.3 897.6 1106.6 860 1130C858.6 1130.9 856.4 1131.7 855 1130.8C852.2 1129 849.9 1126.2 849 1123C845.4 1109.9 843.3 1096.5 841.7 1083C841.1 1077.6 841.5 1072 842.5 1066.7C843.4 1061.9 843.5 1055.7 847.5 1053C884.5 1028.2 923.9 1007.1 963 985.8Z" fill="url(#meshA)" stroke="none"/>
<path d="M963 985.8C964.8 984.8 967.5 985.3 969 986.7C972.9 990.4 976.8 994.8 978 1000C979.8 1008.1 978 1016.7 977.5 1025C977 1033.4 976.4 1041.8 975 1050C974.5 1052.8 974.1 1056.4 971.7 1058C935.3 1083.3 897.6 1106.6 860 1130C858.6 1130.9 856.4 1131.7 855 1130.8C852.2 1129 849.9 1126.2 849 1123C845.4 1109.9 843.3 1096.5 841.7 1083C841.1 1077.6 841.5 1072 842.5 1066.7C843.4 1061.9 843.5 1055.7 847.5 1053C884.5 1028.2 923.9 1007.1 963 985.8Z" fill="url(#meshB)" stroke="none"/>
<path d="M963 985.8C964.8 984.8 967.5 985.3 969 986.7C972.9 990.4 976.8 994.8 978 1000C979.8 1008.1 978 1016.7 977.5 1025C977 1033.4 976.4 1041.8 975 1050C974.5 1052.8 974.1 1056.4 971.7 1058C935.3 1083.3 897.6 1106.6 860 1130C858.6 1130.9 856.4 1131.7 855 1130.8C852.2 1129 849.9 1126.2 849 1123C845.4 1109.9 843.3 1096.5 841.7 1083C841.1 1077.6 841.5 1072 842.5 1066.7C843.4 1061.9 843.5 1055.7 847.5 1053C884.5 1028.2 923.9 1007.1 963 985.8Z" fill="none" stroke="#333" stroke-width="1.71" />
<path d="M961.7 976.7C963.4 975.8 964.8 973.9 966.7 974C969.1 974.2 971.5 975.6 973 977.5C976.7 982.2 979.5 987.5 981.7 993C983.2 996.8 984 1000.9 984 1005C984 1014 982.5 1023 981.5 1032C980.5 1040.7 979.6 1049.4 978 1058C977.4 1061 977.6 1065 975 1066.7C937.7 1090.7 898.5 1111.8 860 1134C858.5 1134.9 856.8 1135.9 855 1135.8C852.1 1135.6 848.6 1135.2 846.7 1133C842.6 1128.4 840 1122.5 838 1116.7C834.3 1105.7 831.4 1094.5 830 1083C829.3 1077.6 830.4 1072 831.7 1066.7C833.1 1060.9 835.1 1055.2 838 1050C839.6 1047 842.7 1045 845 1042.5C883.9 1020.6 922.8 998.6 961.7 976.7Z" fill="none" stroke="#262626" stroke-width="1.71" />
<path d="M846.5 1046L963 980.5" fill="none" stroke="#262626" stroke-width="1.34" />
<path d="M848 1049.5L964 984" fill="none" stroke="#a9a9a9" stroke-width="1.71" />
<path d="M836 1083C836.5 1077.7 836.3 1072.2 837.5 1067C838.6 1062.1 840.7 1057.4 843 1053C844.2 1050.7 846.3 1049 848 1047" fill="none" stroke="#a9a9a9" stroke-width="1.22" />
<path d="M836 1083C838.3 1093.7 839.8 1104.6 843 1115C844.5 1119.7 847.2 1124 850 1128C851.2 1129.7 853.3 1130.7 855 1132" fill="none" stroke="#a9a9a9" stroke-width="1.22" />
<path d="M868 1029.5L868.6 1032.5" fill="none" stroke="#262626" stroke-width="1.34" />
<path d="M896 1013.7L896.6 1016.7" fill="none" stroke="#262626" stroke-width="1.34" />
<path d="M912 1004.7L912.6 1007.7" fill="none" stroke="#262626" stroke-width="1.34" />
<path d="M954 981L954.6 984" fill="none" stroke="#262626" stroke-width="1.34" />
<path d="M836.7 280.7L847 273.3C849.4 274.6 852.4 275.3 854.3 277.3C855.6 278.7 856.2 280.9 855.7 282.7C855.2 284.7 853.5 286.3 851.7 287.3C849.9 288.2 847.7 288.4 845.7 288C842.5 287.3 839.7 285.3 836.7 284L836.7 280.7Z" fill="none" stroke="#262626" stroke-width="1.83" />
<ellipse cx="848.3" cy="281.3" rx="2.8" ry="1.8" fill="#555" stroke="#262626" stroke-width="1.59" transform="rotate(15 848.3 281.3)"/>
<path d="M834.3 261.3C834 260 835.3 258.8 836.3 258C838.1 256.5 840.3 255.9 842.3 254.7C844.4 253.5 846.3 252 848.3 250.7C848.8 251.6 849 252.6 849.7 253.3C850.6 254.4 852.1 254.9 853 256C854.4 257.8 855.2 260 856.3 262C857.9 260.4 860.1 259.3 861 257.3C861.8 255.5 860.2 253.1 861 251.3C861.7 249.9 863.4 249 865 248.7C868 248 871.3 247.6 874.3 248.3C877.9 249.2 881.4 251 884.3 253.3C885.2 254 884.8 255.6 885 256.7C889.4 260.5 894.5 263.6 898.3 268C899 268.8 898 270.5 897 270.7C893.9 271.3 890.7 270.9 887.7 270C885.2 269.3 883.6 266.2 881 266C879.3 265.9 878.4 268.2 877 269.3C876.1 270 875.4 271.3 874.3 271.3C872 271.3 869.9 270.1 867.7 269.3C866.8 269 865.9 268.4 865 268C865.9 269.8 867.7 271.3 867.7 273.3C867.7 274.6 866.3 275.9 865 276C863.3 276.2 861.9 274.6 860.3 274C859 273.5 857.6 273.1 856.3 272.7L853.7 277.3L847 273.3C844.1 271.5 840.8 270.3 838.3 268C836.4 266.2 834.8 263.9 834.3 261.3Z" fill="none" stroke="#262626" stroke-width="1.83" />
<path d="M885 256.7C883.5 258 881.3 258.9 880.5 260.7C879.8 262.3 880.8 264.2 881 266" fill="none" stroke="#262626" stroke-width="1.71" />
<path d="M883.5 262C883.9 264.1 886.1 265.6 888 266.5C889 266.9 891.2 266.5 891 265.5C890.6 263.7 888.7 262.3 887 261.5C885.9 261 883.3 260.8 883.5 262Z" fill="#333" stroke="#262626" stroke-width="1.22" />
<path d="M865 253.3L883.7 255.3L878.3 268L864.3 266.7Z" fill="#f1f1f1" stroke="#bdbdbd" stroke-width="1.22" />
<path d="M840.5 256.5C842.3 257.2 844.3 257.6 846 258.5C847.7 259.4 849 260.8 850.5 262" fill="none" stroke="#1a1a1a" stroke-width="2.44" />
<path d="M839.5 262.5C841.3 262.8 843.2 263.1 845 263.5C846.5 263.8 848 264.2 849.5 264.5" fill="none" stroke="#1a1a1a" stroke-width="1.95" />
<path d="M846 252.5L848.3 250.7" fill="none" stroke="#1a1a1a" stroke-width="2.44" />
<path d="M849 266C850.3 267.3 851.6 268.7 853 270C854 271 855.2 271.8 856.3 272.7" fill="none" stroke="#a9a9a9" stroke-width="1.22" />
<path d="M756.5 81.6C756.6 80.2 757.8 78.9 759 78.2C760.6 77.3 762.5 76.9 764.4 76.9C767 76.9 769.6 77.1 772 78C774 78.7 776 79.9 777.3 81.6C778.3 82.9 778.6 84.7 778.4 86.3C778.2 88 776.2 89.3 776 91C775.8 92.2 777.4 93.2 777.3 94.4C777.2 95.7 776.2 96.9 775.5 98C774.8 99 773.6 99.7 773.2 100.8C772 104.2 771.8 107.9 770.8 111.3C770.1 113.7 769.4 116.2 768 118.3C766.7 120.2 764.9 122 762.7 123C759.8 124.3 756.5 124.8 753.3 124.8C750.7 124.8 748.1 124.2 745.8 123C744.6 122.3 743.8 120.9 743.7 119.5C743.6 118 744.3 116.5 745.2 115.4C746.2 114.2 747.7 113.1 749.3 113C752.3 112.9 755 114.9 758 114.8C759.7 114.7 761.3 113.6 762.7 112.5C763.6 111.8 763.8 110.6 764.4 109.6L761.5 106C762.7 102.3 764.2 98.8 765 95C765.6 92.2 765.6 89.2 765.6 86.3C765.6 85.7 765.6 84.6 765 84.5C764.2 84.3 763.6 85.7 762.7 85.7C761.3 85.7 759.8 85.3 758.6 84.5C757.6 83.8 756.4 82.8 756.5 81.6Z" fill="none" stroke="#262626" stroke-width="1.83" />
<ellipse cx="751.3" cy="119.2" rx="2.2" ry="1.4" fill="none" stroke="#262626" stroke-width="1.46"/>
<path d="M764.4 77.5C765.4 79.5 766.8 81.3 767.3 83.5C768 86.4 767.8 89.5 768 92.5" fill="none" stroke="#111" stroke-width="2.44" />
<path d="M764 79L762.5 82" fill="none" stroke="#111" stroke-width="2.44" />
<path d="M767.5 84C768.2 86 768.9 88 769.5 90C769.9 91.6 770.2 93.3 770.5 95" fill="none" stroke="#262626" stroke-width="1.22" />
<path d="M765 95C766.2 96 767.1 97.3 768.5 98C770.3 98.9 772.4 99.1 774.3 99.7" fill="none" stroke="#111" stroke-width="2.44" />
<path d="M764.4 109.6L769.7 112" fill="none" stroke="#262626" stroke-width="1.71" />
<path transform="translate(679.8 243.2)" d="M-6.7 5L-6.7 -1.5L-3.5 -4.3L-1 -5L1.5 -3.2L4 -5L6.5 -4.5L6.8 -1L6.8 5Z" fill="none" stroke="#1a1a1a" stroke-width="1.95"/>
<path transform="translate(679.8 243.2)" d="M-4.5 3V0.5M-1.5 3V-1.5M1.5 3V-0.5M4.3 1V-2M-5 3.2H5" fill="none" stroke="#333" stroke-width="1.34"/>
<path transform="translate(656 266.5)" d="M-6.7 5L-6.7 -1.5L-3.5 -4.3L-1 -5L1.5 -3.2L4 -5L6.5 -4.5L6.8 -1L6.8 5Z" fill="none" stroke="#1a1a1a" stroke-width="1.95"/>
<path transform="translate(656 266.5)" d="M-4.5 3V0.5M-1.5 3V-1.5M1.5 3V-0.5M4.3 1V-2M-5 3.2H5" fill="none" stroke="#333" stroke-width="1.34"/>
<path transform="translate(367.8 357.3) scale(1.2)" d="M-4.6 5.8L-4.6 -1.5L-1.5 -5.5L1.8 -5.5L4.6 -1.8L4.6 5.8Z" fill="none" stroke="#1a1a1a" stroke-width="1.59"/>
<path transform="translate(367.8 357.3) scale(1.2)" d="M-3 4V0M0 4V-1M3 4V0M-3.5 4.2H3.5M-3 -1.5H3M-3.5 2H3.5" fill="none" stroke="#555" stroke-width="1.1"/>
<path transform="translate(336.5 377.2) scale(1.2)" d="M-4.6 5.8L-4.6 -1.5L-1.5 -5.5L1.8 -5.5L4.6 -1.8L4.6 5.8Z" fill="none" stroke="#1a1a1a" stroke-width="1.59"/>
<path transform="translate(336.5 377.2) scale(1.2)" d="M-3 4V0M0 4V-1M3 4V0M-3.5 4.2H3.5M-3 -1.5H3M-3.5 2H3.5" fill="none" stroke="#555" stroke-width="1.1"/>
<path transform="translate(592.8 878.2)" d="M-7.2 -2L-1.2 -6.5L7.4 0.2L7 3.6L1.4 6.6L-7 1.6Z" fill="#a9a9a9" stroke="#1a1a1a" stroke-width="2.07"/>
<path transform="translate(592.8 878.2)" d="M-5 -1.5L2.5 3.8M-2.5 -4L5 1.2M-5.5 1L-0.5 -3M0 4.5L5.5 0.5" fill="none" stroke="#1a1a1a" stroke-width="1.83"/>
<path transform="translate(592.8 878.2)" d="M-3.2 -0.8L-1.2 -2.4M1.5 2.6L3.6 1" fill="none" stroke="#f2f2f2" stroke-width="1.34"/>
<path transform="translate(534.8 921.8)" d="M-7.2 -2L-1.2 -6.5L7.4 0.2L7 3.6L1.4 6.6L-7 1.6Z" fill="#a9a9a9" stroke="#1a1a1a" stroke-width="2.07"/>
<path transform="translate(534.8 921.8)" d="M-5 -1.5L2.5 3.8M-2.5 -4L5 1.2M-5.5 1L-0.5 -3M0 4.5L5.5 0.5" fill="none" stroke="#1a1a1a" stroke-width="1.83"/>
<path transform="translate(534.8 921.8)" d="M-3.2 -0.8L-1.2 -2.4M1.5 2.6L3.6 1" fill="none" stroke="#f2f2f2" stroke-width="1.34"/>
<path transform="translate(714 941.7)" d="M-7.2 -2L-1.2 -6.5L7.4 0.2L7 3.6L1.4 6.6L-7 1.6Z" fill="#a9a9a9" stroke="#1a1a1a" stroke-width="2.07"/>
<path transform="translate(714 941.7)" d="M-5 -1.5L2.5 3.8M-2.5 -4L5 1.2M-5.5 1L-0.5 -3M0 4.5L5.5 0.5" fill="none" stroke="#1a1a1a" stroke-width="1.83"/>
<path transform="translate(714 941.7)" d="M-3.2 -0.8L-1.2 -2.4M1.5 2.6L3.6 1" fill="none" stroke="#f2f2f2" stroke-width="1.34"/>
<path transform="translate(795.8 891.7)" d="M-7.2 -2L-1.2 -6.5L7.4 0.2L7 3.6L1.4 6.6L-7 1.6Z" fill="#a9a9a9" stroke="#1a1a1a" stroke-width="2.07"/>
<path transform="translate(795.8 891.7)" d="M-5 -1.5L2.5 3.8M-2.5 -4L5 1.2M-5.5 1L-0.5 -3M0 4.5L5.5 0.5" fill="none" stroke="#1a1a1a" stroke-width="1.83"/>
<path transform="translate(795.8 891.7)" d="M-3.2 -0.8L-1.2 -2.4M1.5 2.6L3.6 1" fill="none" stroke="#f2f2f2" stroke-width="1.34"/>
<path transform="translate(681 284)" d="M-1.6 -13A1.6 1.6 0 0 1 1.6 -13L1.6 -6.8C2 -5.2 4.3 -4.3 4.3 -2.6C4.3 -1 1.6 0.3 0 0.3C-1.6 0.3 -4.3 -1 -4.3 -2.6C-4.3 -4.3 -2 -5.2 -1.6 -6.8Z" fill="none" stroke="#262626" stroke-width="1.59"/>
<path transform="translate(657.3 299.3)" d="M-1.6 -13A1.6 1.6 0 0 1 1.6 -13L1.6 -6.8C2 -5.2 4.3 -4.3 4.3 -2.6C4.3 -1 1.6 0.3 0 0.3C-1.6 0.3 -4.3 -1 -4.3 -2.6C-4.3 -4.3 -2 -5.2 -1.6 -6.8Z" fill="none" stroke="#262626" stroke-width="1.59"/>
<path transform="translate(369.6 386)" d="M-1.6 -13A1.6 1.6 0 0 1 1.6 -13L1.6 -6.8C2 -5.2 4.3 -4.3 4.3 -2.6C4.3 -1 1.6 0.3 0 0.3C-1.6 0.3 -4.3 -1 -4.3 -2.6C-4.3 -4.3 -2 -5.2 -1.6 -6.8Z" fill="none" stroke="#262626" stroke-width="1.59"/>
<path transform="translate(338.6 405.8)" d="M-1.6 -13A1.6 1.6 0 0 1 1.6 -13L1.6 -6.8C2 -5.2 4.3 -4.3 4.3 -2.6C4.3 -1 1.6 0.3 0 0.3C-1.6 0.3 -4.3 -1 -4.3 -2.6C-4.3 -4.3 -2 -5.2 -1.6 -6.8Z" fill="none" stroke="#262626" stroke-width="1.59"/>
<path transform="translate(592 902)" d="M-1.8 -12.5A1.8 1.8 0 0 1 1.8 -12.5L1.8 -3M-1.8 -12.5L-1.8 -3" fill="none" stroke="#262626" stroke-width="1.59"/>
<ellipse cx="592" cy="902" rx="6.5" ry="3.3" fill="none" stroke="#262626" stroke-width="1.71"/>
<path transform="translate(592 902)" d="M-1.8 -3.2Q0 -2.2 1.8 -3.2" fill="none" stroke="#262626" stroke-width="1.22"/>
<path transform="translate(534.3 945.5)" d="M-1.8 -12.5A1.8 1.8 0 0 1 1.8 -12.5L1.8 -3M-1.8 -12.5L-1.8 -3" fill="none" stroke="#262626" stroke-width="1.59"/>
<ellipse cx="534.3" cy="945.5" rx="6.5" ry="3.3" fill="none" stroke="#262626" stroke-width="1.71"/>
<path transform="translate(534.3 945.5)" d="M-1.8 -3.2Q0 -2.2 1.8 -3.2" fill="none" stroke="#262626" stroke-width="1.22"/>
<path transform="translate(896 994)" d="M-1.8 -12.5A1.8 1.8 0 0 1 1.8 -12.5L1.8 -3M-1.8 -12.5L-1.8 -3" fill="none" stroke="#262626" stroke-width="1.59"/>
<ellipse cx="896" cy="994" rx="6.5" ry="3.3" fill="none" stroke="#262626" stroke-width="1.71"/>
<path transform="translate(896 994)" d="M-1.8 -3.2Q0 -2.2 1.8 -3.2" fill="none" stroke="#262626" stroke-width="1.22"/>
<path transform="translate(813 1047.5)" d="M-1.8 -12.5A1.8 1.8 0 0 1 1.8 -12.5L1.8 -3M-1.8 -12.5L-1.8 -3" fill="none" stroke="#262626" stroke-width="1.59"/>
<ellipse cx="813" cy="1047.5" rx="6.5" ry="3.3" fill="none" stroke="#262626" stroke-width="1.71"/>
<path transform="translate(813 1047.5)" d="M-1.8 -3.2Q0 -2.2 1.8 -3.2" fill="none" stroke="#262626" stroke-width="1.22"/>
<path transform="translate(663.3 355.7)" d="M-2.2 -4.3V-7.5A2.2 2.2 0 0 1 2.2 -7.5V-4.3" fill="none" stroke="#262626" stroke-width="1.83"/>
<ellipse cx="663.3" cy="355.7" rx="4.8" ry="4.8" fill="none" stroke="#262626" stroke-width="1.83"/>
<ellipse cx="663.1" cy="356.2" rx="2.2" ry="1.8" fill="none" stroke="#888" stroke-width="1.1"/>
<path transform="translate(664.7 395)" d="M-2.2 -4.3V-7.5A2.2 2.2 0 0 1 2.2 -7.5V-4.3" fill="none" stroke="#262626" stroke-width="1.83"/>
<ellipse cx="664.7" cy="395" rx="4.8" ry="4.8" fill="none" stroke="#262626" stroke-width="1.83"/>
<ellipse cx="664.5" cy="395.5" rx="2.2" ry="1.8" fill="none" stroke="#888" stroke-width="1.1"/>
<path transform="translate(392.7 490.7)" d="M-14.5 -2.3L-5.2 -2.3C-4 -2.3 -3.2 -4.4 -1.6 -4.6C0.2 -3 0.2 3 -1.6 4.6C-3.2 4.4 -4 2.3 -5.2 2.3L-14.5 2.3A1.2 2.3 0 0 1 -14.5 -2.3Z" fill="none" stroke="#262626" stroke-width="1.71"/>
<path transform="translate(392.7 490.7)" d="M-12 0H-6" fill="none" stroke="#a9a9a9" stroke-width="1.22"/>
<path transform="translate(393 527.3)" d="M-14.5 -2.3L-5.2 -2.3C-4 -2.3 -3.2 -4.4 -1.6 -4.6C0.2 -3 0.2 3 -1.6 4.6C-3.2 4.4 -4 2.3 -5.2 2.3L-14.5 2.3A1.2 2.3 0 0 1 -14.5 -2.3Z" fill="none" stroke="#262626" stroke-width="1.71"/>
<path transform="translate(393 527.3)" d="M-12 0H-6" fill="none" stroke="#a9a9a9" stroke-width="1.22"/>
<path transform="translate(812 84)" d="M-13.5 -2.2L-4.5 -2.2C-3.5 -2.2 -3 -3.6 -1.6 -3.8C0.2 -2.5 0.2 2.5 -1.6 3.8C-3 3.6 -3.5 2.2 -4.5 2.2L-13.5 2.2A1.1 2.2 0 0 1 -13.5 -2.2Z" fill="none" stroke="#262626" stroke-width="1.59"/>
<path transform="translate(812 84)" d="M-11 0H-6" fill="none" stroke="#a9a9a9" stroke-width="1.22"/>
<path transform="translate(408.5 610.8) rotate(-29.8)" d="M3.9 -2.2L51.9 -2.2A1 2.2 0 0 1 51.9 2.2L3.9 2.2" fill="none" stroke="#262626" stroke-width="1.59"/>
<path transform="translate(408.5 610.8) rotate(-29.8)" d="M3.9 -5.2L-3.9 -4.7A2.3 4.7 0 0 0 -3.9 4.7L3.9 5.2A2.6 5.2 0 0 0 3.9 -5.2Z" fill="#fff" stroke="#262626" stroke-width="1.59"/>
<path transform="translate(408.5 610.8) rotate(-29.8)" d="M3.9 -5.2A2.6 5.2 0 0 0 3.9 5.2" fill="none" stroke="#262626" stroke-width="1.34"/>
<path transform="translate(408.5 610.8) rotate(-29.8)" d="M-3.9 -1.6H1.9" fill="none" stroke="#777" stroke-width="1.1"/>
<path transform="translate(488.5 652.5) rotate(30.6)" d="M3 -2.3L12.8 -2.3A1 2.3 0 0 1 12.8 2.3L3 2.3" fill="none" stroke="#262626" stroke-width="1.59"/>
<path transform="translate(488.5 652.5) rotate(30.6)" d="M3 -4.3L-3 -3.9A1.9 3.9 0 0 0 -3 3.9L3 4.3A2.1 4.3 0 0 0 3 -4.3Z" fill="#fff" stroke="#262626" stroke-width="1.59"/>
<path transform="translate(488.5 652.5) rotate(30.6)" d="M3 -4.3A2.1 4.3 0 0 0 3 4.3" fill="none" stroke="#262626" stroke-width="1.34"/>
<path transform="translate(488.5 652.5) rotate(30.6)" d="M-3 -1.3H1.5" fill="none" stroke="#777" stroke-width="1.1"/>
<path transform="translate(536 652.5) rotate(30.7)" d="M3 -2.4L18.6 -2.4A1 2.4 0 0 1 18.6 2.4L3 2.4" fill="none" stroke="#262626" stroke-width="1.59"/>
<path transform="translate(536 652.5) rotate(30.7)" d="M3 -4L-3 -3.6A1.8 3.6 0 0 0 -3 3.6L3 4A2 4 0 0 0 3 -4Z" fill="#fff" stroke="#262626" stroke-width="1.59"/>
<path transform="translate(536 652.5) rotate(30.7)" d="M3 -4A2 4 0 0 0 3 4" fill="none" stroke="#262626" stroke-width="1.34"/>
<path transform="translate(536 652.5) rotate(30.7)" d="M-3 -1.2H1.5" fill="none" stroke="#777" stroke-width="1.1"/>
<path transform="translate(504 694.5) rotate(-152.3)" d="M3 -2.2L13.6 -2.2A1 2.2 0 0 1 13.6 2.2L3 2.2" fill="none" stroke="#262626" stroke-width="1.59"/>
<path transform="translate(504 694.5) rotate(-152.3)" d="M3 -4L-3 -3.6A1.8 3.6 0 0 0 -3 3.6L3 4A2 4 0 0 0 3 -4Z" fill="#fff" stroke="#262626" stroke-width="1.59"/>
<path transform="translate(504 694.5) rotate(-152.3)" d="M3 -4A2 4 0 0 0 3 4" fill="none" stroke="#262626" stroke-width="1.34"/>
<path transform="translate(504 694.5) rotate(-152.3)" d="M-3 -1.2H1.5" fill="none" stroke="#777" stroke-width="1.1"/>
<path transform="translate(637.5 797.5) rotate(33.2)" d="M3 -2.4L15.5 -2.4A1 2.4 0 0 1 15.5 2.4L3 2.4" fill="none" stroke="#262626" stroke-width="1.59"/>
<path transform="translate(637.5 797.5) rotate(33.2)" d="M3 -4L-3 -3.6A1.8 3.6 0 0 0 -3 3.6L3 4A2 4 0 0 0 3 -4Z" fill="#fff" stroke="#262626" stroke-width="1.59"/>
<path transform="translate(637.5 797.5) rotate(33.2)" d="M3 -4A2 4 0 0 0 3 4" fill="none" stroke="#262626" stroke-width="1.34"/>
<path transform="translate(637.5 797.5) rotate(33.2)" d="M-3 -1.2H1.5" fill="none" stroke="#777" stroke-width="1.1"/>
<path transform="translate(626.7 506.5) rotate(90)" d="M3 -2.2L14 -2.2A1 2.2 0 0 1 14 2.2L3 2.2" fill="none" stroke="#262626" stroke-width="1.59"/>
<path transform="translate(626.7 506.5) rotate(90)" d="M3 -4L-3 -3.6A1.8 3.6 0 0 0 -3 3.6L3 4A2 4 0 0 0 3 -4Z" fill="#fff" stroke="#262626" stroke-width="1.59"/>
<path transform="translate(626.7 506.5) rotate(90)" d="M3 -4A2 4 0 0 0 3 4" fill="none" stroke="#262626" stroke-width="1.34"/>
<path transform="translate(626.7 506.5) rotate(90)" d="M-3 -1.2H1.5" fill="none" stroke="#777" stroke-width="1.1"/>
<path transform="translate(867.5 215.2) rotate(105.9)" d="M2 -2.4L12.8 -2.4A1 2.4 0 0 1 12.8 2.4L2 2.4" fill="none" stroke="#262626" stroke-width="1.59"/>
<ellipse cx="867.5" cy="215.2" rx="7.2" ry="4.6" fill="#fff" stroke="#262626" stroke-width="1.71" transform="rotate(12 867.5 215.2)"/>
<ellipse cx="868" cy="214.4" rx="4" ry="2" fill="none" stroke="#888" stroke-width="1.1" transform="rotate(12 868 214.4)"/>
<path transform="translate(917 199) rotate(111.4)" d="M2 -2.4L12.3 -2.4A1 2.4 0 0 1 12.3 2.4L2 2.4" fill="none" stroke="#262626" stroke-width="1.59"/>
<ellipse cx="917" cy="199" rx="7.2" ry="4.6" fill="#fff" stroke="#262626" stroke-width="1.71" transform="rotate(12 917 199)"/>
<ellipse cx="917.5" cy="198.2" rx="4" ry="2" fill="none" stroke="#888" stroke-width="1.1" transform="rotate(12 917.5 198.2)"/>
<path transform="translate(488 565.3) rotate(-29.3)" d="M0 -3.1L41.9 -3.1A1.6 3.1 0 0 1 41.9 3.1L0 3.1" fill="none" stroke="#262626" stroke-width="1.59"/>
<path transform="translate(488 565.3) rotate(-29.3)" d="M0 -3.1A1.6 3.1 0 0 0 0 3.1A1.6 3.1 0 0 0 0 -3.1Z" fill="#fff" stroke="#262626" stroke-width="1.59"/>
<ellipse cx="488.2" cy="565.2" rx="1.2" ry="1.9" fill="none" stroke="#262626" stroke-width="1.22" transform="rotate(-30 488.2 565.2)"/>
<path d="M494.5 560L495.5 562.5" fill="none" stroke="#a9a9a9" stroke-width="1.22" />
<path d="M519 546L520 548.5" fill="none" stroke="#a9a9a9" stroke-width="1.22" />
<path transform="translate(468 576.5) rotate(-26.8)" d="M0 -4.1L9.5 -4.1A2 4.1 0 0 1 9.5 4.1L0 4.1" fill="none" stroke="#262626" stroke-width="1.59"/>
<path transform="translate(465.5 577.7) rotate(-25.9)" d="M0 -6L3.9 -6A3.6 6 0 0 1 3.9 6L0 6" fill="none" stroke="#262626" stroke-width="1.59"/>
<path transform="translate(465.5 577.7) rotate(-25.9)" d="M0 -6A3.6 6 0 0 0 0 6A3.6 6 0 0 0 0 -6Z" fill="#fff" stroke="#262626" stroke-width="1.59"/>
<ellipse cx="465.3" cy="577.8" rx="2.2" ry="3.8" fill="none" stroke="#262626" stroke-width="1.34" transform="rotate(-27 465.3 577.8)"/>
<path transform="translate(537.5 535.7) rotate(-29.6)" d="M0 -6.3L7.5 -6.3A3.5 6.3 0 0 1 7.5 6.3L0 6.3" fill="none" stroke="#262626" stroke-width="1.59"/>
<path transform="translate(537.5 535.7) rotate(-29.6)" d="M0 -6.3A3.5 6.3 0 0 0 0 6.3A3.5 6.3 0 0 0 0 -6.3Z" fill="#fff" stroke="#262626" stroke-width="1.59"/>
<path transform="translate(533.8 537.8) rotate(-29.6)" d="M0 -4L4.3 -4A2.2 4 0 0 1 4.3 4L0 4" fill="none" stroke="#262626" stroke-width="1.59"/>
<path transform="translate(533.8 537.8) rotate(-29.6)" d="M0 -4A2.2 4 0 0 0 0 4A2.2 4 0 0 0 0 -4Z" fill="#fff" stroke="#262626" stroke-width="1.59"/>
<path d="M541 533L543 537" fill="none" stroke="#a9a9a9" stroke-width="1.22" />
<path transform="translate(472 631) rotate(-26.3)" d="M0 -2.8L11.7 -2.8A1.4 2.8 0 0 1 11.7 2.8L0 2.8" fill="none" stroke="#262626" stroke-width="1.59"/>
<path d="M476 627L477.5 631" fill="none" stroke="#777" stroke-width="1.1" />
<path d="M479 625.5L480.5 629.5" fill="none" stroke="#777" stroke-width="1.1" />
<path d="M458.5 634C458.6 632.5 458.6 630.7 459.5 629.5C460.6 628.2 462.3 627.4 464 627C465.6 626.7 467.5 626.8 469 627.5C470.4 628.2 471.6 629.5 472 631C472.5 632.6 471.9 634.4 471.5 636C471.1 637.6 471 639.9 469.5 640.5C466.9 641.6 463.8 641.2 461 640.5C460 640.3 459.4 639 459 638C458.5 636.7 458.4 635.3 458.5 634Z" fill="#fff" stroke="#262626" stroke-width="1.71" />
<path d="M461.5 641L461.8 644L468.6 644L468.8 641" fill="none" stroke="#262626" stroke-width="1.46" />
<path d="M463 644.2L463.2 647.2L467.5 647.2L467.6 644.2" fill="none" stroke="#262626" stroke-width="1.46" />
<path d="M463.5 647.4L463.8 650L467 650L467.2 647.4" fill="none" stroke="#262626" stroke-width="1.46" />
<path d="M413.5 653C413.6 651.6 413.6 650.1 414.5 649C415.3 648 416.8 648 418 647.5C420 646.7 421.9 645.6 424 645C426.3 644.3 428.6 643.6 431 643.5C433 643.4 435.2 643.6 437 644.5C438.6 645.3 439.7 646.9 440.5 648.5C441.4 650.2 442.1 652.1 442 654C441.9 655.8 441 657.5 440 659C439 660.6 437.6 662 436 663C433.9 664.4 431.4 665.3 429 666C427.2 666.5 425.3 666.9 423.5 666.5C421.8 666.1 420.1 664.9 419 663.5C417.7 661.9 417.6 659.7 416.5 658C415.9 657.1 414.4 657 413.8 656C413.3 655.1 413.4 654 413.5 653Z" fill="none" stroke="#262626" stroke-width="1.71" />
<ellipse cx="428.5" cy="652.5" rx="9.5" ry="5.6" fill="none" stroke="#888" stroke-width="1.22" transform="rotate(-20 428.5 652.5)"/>
<path d="M419.5 658C421 659.2 422.2 661 424 661.5C426.3 662.1 428.8 661.7 431 661C433.4 660.3 435.6 659 437.5 657.5C439.2 656.2 440.2 654.2 441.5 652.5" fill="none" stroke="#777" stroke-width="1.22" />
<path d="M421 661.5C422.7 662.3 424.2 663.6 426 663.8C428.4 664 430.8 663.4 433 662.5C435 661.7 436.7 660.2 438.5 659" fill="none" stroke="#777" stroke-width="1.22" />
<path d="M437.5 660L441 659L443 661.5L441.5 663.8L438 662.5" fill="none" stroke="#262626" stroke-width="1.59" />
<path d="M415 655.5L417.5 653.5" fill="none" stroke="#262626" stroke-width="1.22" />
<ellipse cx="465.8" cy="679" rx="5.4" ry="3.1" fill="none" stroke="#1a1a1a" stroke-width="2.07"/>
<path d="M461.8 681.5L462 684.5L469.8 684.5L470 681.5" fill="none" stroke="#262626" stroke-width="1.59" />
<path d="M462.8 684.8L463.2 688.5L468.6 688.5L469 684.8" fill="none" stroke="#262626" stroke-width="1.59" />
<path d="M562.5 660.5C561.2 659.5 560.6 657.6 560.5 656C560.4 654.3 561 652.4 562 651C562.9 649.7 564.5 648.8 566 648.5C567.4 648.2 569 648.6 570 649.5C571.3 650.6 572.2 652.3 572.5 654C572.8 655.5 572.5 657.4 571.5 658.5C570.4 659.7 568.6 660 567 660C565.9 660 565.1 658.4 564 658.5C563.2 658.6 563.2 661 562.5 660.5Z" fill="none" stroke="#1a1a1a" stroke-width="1.83" />
<path d="M564 658.5C563.6 657.3 562.7 656.2 562.8 655C562.9 653.7 563.6 652.4 564.5 651.5C565.3 650.7 566.5 650.6 567.5 650.2" fill="none" stroke="#262626" stroke-width="1.34" />
<path transform="translate(642.5 485.5) rotate(25)" d="M-6 -2.2L-0.5 -2.2L-0.5 2.2L-6 2.2A1 2.2 0 0 1 -6 -2.2Z" fill="none" stroke="#262626" stroke-width="1.59"/>
<path transform="translate(642.5 485.5) rotate(25)" d="M-0.5 -5.5C3.5 -5.5 5 -2.5 5 0C5 2.5 3.5 5.5 -0.5 5.5C-2 3 -2 -3 -0.5 -5.5Z" fill="#fff" stroke="#262626" stroke-width="1.71"/>
<path transform="translate(340 657) rotate(127)" d="M-6 -2.2L-0.5 -2.2L-0.5 2.2L-6 2.2A1 2.2 0 0 1 -6 -2.2Z" fill="none" stroke="#262626" stroke-width="1.59"/>
<path transform="translate(340 657) rotate(127)" d="M-0.5 -5.5C3.5 -5.5 5 -2.5 5 0C5 2.5 3.5 5.5 -0.5 5.5C-2 3 -2 -3 -0.5 -5.5Z" fill="#fff" stroke="#262626" stroke-width="1.71"/>
<path transform="translate(524 336) rotate(37)" d="M1.5 -4.3L12.5 -2Q16 0 12.5 2L1.5 4.3Z" fill="#fff" stroke="#1a1a1a" stroke-width="1.83"/>
<path transform="translate(524 336) rotate(37)" d="M5 -3.4L5.5 3.3M9 -2.6L9.3 2.6M8 -2.8L12.5 -1.8" fill="none" stroke="#1a1a1a" stroke-width="1.46"/>
<path transform="translate(524 336) rotate(37)" d="M0 -7A3.4 7 0 0 1 0 7A3.4 7 0 0 1 0 -7Z" fill="#fff" stroke="#1a1a1a" stroke-width="1.83"/>
<path transform="translate(524 336) rotate(37)" d="M1.2 -4.2A2.2 4.3 0 0 1 1.2 4.2" fill="none" stroke="#777" stroke-width="1.22"/>
<path transform="translate(270.5 504.5) rotate(37)" d="M1.5 -4.3L12.5 -2Q16 0 12.5 2L1.5 4.3Z" fill="#fff" stroke="#1a1a1a" stroke-width="1.83"/>
<path transform="translate(270.5 504.5) rotate(37)" d="M5 -3.4L5.5 3.3M9 -2.6L9.3 2.6M8 -2.8L12.5 -1.8" fill="none" stroke="#1a1a1a" stroke-width="1.46"/>
<path transform="translate(270.5 504.5) rotate(37)" d="M0 -7A3.4 7 0 0 1 0 7A3.4 7 0 0 1 0 -7Z" fill="#fff" stroke="#1a1a1a" stroke-width="1.83"/>
<path transform="translate(270.5 504.5) rotate(37)" d="M1.2 -4.2A2.2 4.3 0 0 1 1.2 4.2" fill="none" stroke="#777" stroke-width="1.22"/>
<g transform="translate(879.5 314) scale(-1 1)">
<path transform="translate(0 0)" d="M-3.5 -6.3L3 -7L7.5 -2.5L6.5 1.5L2 6L-2.5 6.5" fill="none" stroke="#1a1a1a" stroke-width="1.83"/>
<path transform="translate(0 0)" d="M3 -7L2.2 -2.5M7.5 -2.5L2.5 -1" fill="none" stroke="#444" stroke-width="1.34"/>
</g>
<ellipse cx="882.5" cy="314.5" rx="3.9" ry="5.6" fill="#fff" stroke="#1a1a1a" stroke-width="1.83" transform="rotate(22 882.5 314.5)"/>
<ellipse cx="882.5" cy="314.5" rx="2.2" ry="3.6" fill="none" stroke="#777" stroke-width="1.22" transform="rotate(22 882.5 314.5)"/>
<g transform="translate(791.5 640) scale(1 1)">
<path transform="translate(0 0)" d="M-3.5 -6.3L3 -7L7.5 -2.5L6.5 1.5L2 6L-2.5 6.5" fill="none" stroke="#1a1a1a" stroke-width="1.83"/>
<path transform="translate(0 0)" d="M3 -7L2.2 -2.5M7.5 -2.5L2.5 -1" fill="none" stroke="#444" stroke-width="1.34"/>
</g>
<ellipse cx="788.5" cy="640.5" rx="3.9" ry="5.6" fill="#fff" stroke="#1a1a1a" stroke-width="1.83" transform="rotate(-22 788.5 640.5)"/>
<ellipse cx="788.5" cy="640.5" rx="2.2" ry="3.6" fill="none" stroke="#777" stroke-width="1.22" transform="rotate(-22 788.5 640.5)"/>
<g transform="translate(544.5 996.7) scale(1 1)">
<path transform="translate(0 0)" d="M-3.5 -6.3L3 -7L7.5 -2.5L6.5 1.5L2 6L-2.5 6.5" fill="none" stroke="#1a1a1a" stroke-width="1.83"/>
<path transform="translate(0 0)" d="M3 -7L2.2 -2.5M7.5 -2.5L2.5 -1" fill="none" stroke="#444" stroke-width="1.34"/>
</g>
<ellipse cx="541.5" cy="997.2" rx="3.9" ry="5.6" fill="#fff" stroke="#1a1a1a" stroke-width="1.83" transform="rotate(-22 541.5 997.2)"/>
<ellipse cx="541.5" cy="997.2" rx="2.2" ry="3.6" fill="none" stroke="#777" stroke-width="1.22" transform="rotate(-22 541.5 997.2)"/>
<path transform="translate(726.7 615) rotate(-28)" d="M-4.5 -6.6L6 -6.6L9.3 -4L9.3 5L5.5 7L-4.5 7A4.6 6.8 0 0 1 -4.5 -6.6Z" fill="none" stroke="#1a1a1a" stroke-width="2.07"/>
<path transform="translate(726.7 615) rotate(-28)" d="M-2.5 -6.4A4 6.6 0 0 0 -2.5 6.8M0.7 -6.4A4 6.6 0 0 0 0.7 6.8M4 -6.4V6.8" fill="none" stroke="#1a1a1a" stroke-width="2.07"/>
<path transform="translate(726.7 615) rotate(-28)" d="M6 -6.6L6.5 6.5M4 0H9" fill="none" stroke="#333" stroke-width="1.34"/>
<ellipse cx="680.8" cy="711.7" rx="2.6" ry="4" fill="none" stroke="#262626" stroke-width="1.71" transform="rotate(28 680.8 711.7)"/>
<ellipse cx="669" cy="755.8" rx="2.6" ry="4" fill="none" stroke="#262626" stroke-width="1.71" transform="rotate(28 669 755.8)"/>
<ellipse cx="564.3" cy="783.3" rx="2.6" ry="4" fill="none" stroke="#262626" stroke-width="1.71" transform="rotate(28 564.3 783.3)"/>
<ellipse cx="577" cy="846.5" rx="2.6" ry="4" fill="none" stroke="#262626" stroke-width="1.71" transform="rotate(28 577 846.5)"/>
<path transform="translate(636 733) rotate(-27)" d="M-5 -3.6H5A3.6 3.6 0 0 1 5 3.6H-5A3.6 3.6 0 0 1 -5 -3.6Z" fill="none" stroke="#262626" stroke-width="1.71"/>
<path transform="translate(636 733) rotate(-27)" d="M-5.2 0.2H3.8" fill="none" stroke="#666" stroke-width="1.22"/>
<path transform="translate(591 765) rotate(-27)" d="M-5 -3.6H5A3.6 3.6 0 0 1 5 3.6H-5A3.6 3.6 0 0 1 -5 -3.6Z" fill="none" stroke="#262626" stroke-width="1.71"/>
<path transform="translate(591 765) rotate(-27)" d="M-5.2 0.2H3.8" fill="none" stroke="#666" stroke-width="1.22"/>
<ellipse cx="490.8" cy="787" rx="5.2" ry="3" fill="none" stroke="#262626" stroke-width="1.71"/>
<path transform="translate(490.8 789.5)" d="M-5.2 -2.5V1.8A5.2 3 0 0 0 5.2 1.8V-2.5" fill="none" stroke="#262626" stroke-width="1.71"/>
<path transform="translate(490.8 789.5)" d="M-3.6 3.2V5A3.6 2 0 0 0 3.6 5V3.2" fill="none" stroke="#262626" stroke-width="1.46"/>
<ellipse cx="490.8" cy="787" rx="2.6" ry="1.4" fill="none" stroke="#666" stroke-width="1.22"/>
<ellipse cx="556.8" cy="745" rx="5.2" ry="3" fill="none" stroke="#262626" stroke-width="1.71"/>
<path transform="translate(556.8 747.5)" d="M-5.2 -2.5V1.8A5.2 3 0 0 0 5.2 1.8V-2.5" fill="none" stroke="#262626" stroke-width="1.71"/>
<path transform="translate(556.8 747.5)" d="M-3.6 3.2V5A3.6 2 0 0 0 3.6 5V3.2" fill="none" stroke="#262626" stroke-width="1.46"/>
<ellipse cx="556.8" cy="745" rx="2.6" ry="1.4" fill="none" stroke="#666" stroke-width="1.22"/>
<g style="filter:grayscale(1)">
<text transform="translate(845.8 59) scale(1 1.02)" text-anchor="middle">40</text>
<text transform="translate(624 99.5) scale(1 1.02)" text-anchor="middle">9</text>
<text transform="translate(624.5 144.1) scale(1 1.02)" text-anchor="middle">10</text>
<path d="M616.6 143.2H622.6" stroke="#232323" stroke-width="1.7" stroke-linecap="butt" fill="none"/>
<text transform="translate(775 175.6) scale(1 1.02)" text-anchor="middle">39</text>
<text transform="translate(454 142.4) scale(1 1.02)" text-anchor="middle">7a</text>
<text transform="translate(888 156.6) scale(1 1.02)" text-anchor="middle">34</text>
<text transform="translate(938.3 158.8) scale(1 1.02)" text-anchor="middle">38</text>
<text transform="translate(778 221.6) scale(1 1.02)" text-anchor="middle">7</text>
<text transform="translate(573.3 257.4) scale(1 1.02)" text-anchor="middle">1</text>
<path d="M570.6 256.5H576.6" stroke="#232323" stroke-width="1.7" stroke-linecap="butt" fill="none"/>
<text transform="translate(609 273.2) scale(1 1.02)" text-anchor="middle">22</text>
<text transform="translate(352.5 267.4) scale(1 1.02)" text-anchor="middle">8a</text>
<text transform="translate(427 284.6) scale(1 1.02)" text-anchor="middle">8</text>
<text transform="translate(498.8 295.1) scale(1 1.02)" text-anchor="middle">33</text>
<text transform="translate(788 317.6) scale(1 1.02)" text-anchor="middle">11</text>
<path d="M780.1 316.7H786.1" stroke="#232323" stroke-width="1.7" stroke-linecap="butt" fill="none"/>
<path d="M790.5 316.7H796.5" stroke="#232323" stroke-width="1.7" stroke-linecap="butt" fill="none"/>
<text transform="translate(423 330.6) scale(1 1.02)" text-anchor="middle">22</text>
<text transform="translate(683 349.1) scale(1 1.02)" text-anchor="middle">24</text>
<text transform="translate(925.8 361.6) scale(1 1.02)" text-anchor="middle">16</text>
<path d="M917.9 360.7H923.9" stroke="#232323" stroke-width="1.7" stroke-linecap="butt" fill="none"/>
<text transform="translate(290 414.1) scale(1 1.02)" text-anchor="middle">22</text>
<text transform="translate(361.7 452.4) scale(1 1.02)" text-anchor="middle">24</text>
<text transform="translate(910.8 425.6) scale(1 1.02)" text-anchor="middle">14</text>
<path d="M902.9 424.7H908.9" stroke="#232323" stroke-width="1.7" stroke-linecap="butt" fill="none"/>
<text transform="translate(718 422.1) scale(1 1.02)" text-anchor="middle">28</text>
<text transform="translate(696.7 458.2) scale(1 1.02)" text-anchor="middle">31</text>
<path d="M699.2 457.4H705.2" stroke="#232323" stroke-width="1.7" stroke-linecap="butt" fill="none"/>
<text transform="translate(316.7 474.6) scale(1 1.02)" text-anchor="middle">33</text>
<text transform="translate(435.8 473.2) scale(1 1.02)" text-anchor="middle">28</text>
<text transform="translate(506.7 488.2) scale(1 1.02)" text-anchor="middle">20</text>
<text transform="translate(469 516.5) scale(1 1.02)" text-anchor="middle">19</text>
<path d="M461.1 515.7H467.1" stroke="#232323" stroke-width="1.7" stroke-linecap="butt" fill="none"/>
<text transform="translate(575 539.5) scale(1 1.02)" text-anchor="middle">29</text>
<text transform="translate(429 534) scale(1 1.02)" text-anchor="middle">20</text>
<text transform="translate(757.7 548.2) scale(1 1.02)" text-anchor="middle">13</text>
<path d="M749.8 547.4H755.8" stroke="#232323" stroke-width="1.7" stroke-linecap="butt" fill="none"/>
<text transform="translate(390 557.3) scale(1 1.02)" text-anchor="middle">21</text>
<path d="M392.5 556.5H398.5" stroke="#232323" stroke-width="1.7" stroke-linecap="butt" fill="none"/>
<text transform="translate(778.7 585.3) scale(1 1.02)" text-anchor="middle">37</text>
<text transform="translate(279 598.2) scale(1 1.02)" text-anchor="middle">2</text>
<text transform="translate(530 602.3) scale(1 1.02)" text-anchor="middle">18</text>
<path d="M522.1 601.5H528.1" stroke="#232323" stroke-width="1.7" stroke-linecap="butt" fill="none"/>
<text transform="translate(543 625.5) scale(1 1.02)" text-anchor="middle">35</text>
<text transform="translate(587 624.5) scale(1 1.02)" text-anchor="middle">26</text>
<text transform="translate(830.8 692.3) scale(1 1.02)" text-anchor="middle">16</text>
<path d="M822.9 691.5H828.9" stroke="#232323" stroke-width="1.7" stroke-linecap="butt" fill="none"/>
<text transform="translate(289 688.5) scale(1 1.02)" text-anchor="middle">31</text>
<path d="M291.5 687.7H297.5" stroke="#232323" stroke-width="1.7" stroke-linecap="butt" fill="none"/>
<text transform="translate(365 698.5) scale(1 1.02)" text-anchor="middle">17</text>
<path d="M357.1 697.7H363.1" stroke="#232323" stroke-width="1.7" stroke-linecap="butt" fill="none"/>
<text transform="translate(405 693.2) scale(1 1.02)" text-anchor="middle">32</text>
<text transform="translate(517.8 673.2) scale(1 1.02)" text-anchor="middle">29</text>
<text transform="translate(628 671.5) scale(1 1.02)" text-anchor="middle">32</text>
<text transform="translate(615.8 703.2) scale(1 1.02)" text-anchor="middle">30</text>
<text transform="translate(785.4 732) scale(1 1.02)" text-anchor="middle">36</text>
<text transform="translate(718 739) scale(1 1.02)" text-anchor="middle">25</text>
<text transform="translate(388 764) scale(1 1.02)" text-anchor="middle">6</text>
<text transform="translate(691 770) scale(1 1.02)" text-anchor="middle">26</text>
<text transform="translate(867.5 761.5) scale(1 1.02)" text-anchor="middle">5</text>
<text transform="translate(607.5 824) scale(1 1.02)" text-anchor="middle">25</text>
<text transform="translate(965.3 824.1) scale(1 1.02)" text-anchor="middle">3</text>
<text transform="translate(461.7 835.5) scale(1 1.02)" text-anchor="middle">27</text>
<text transform="translate(879.5 842) scale(1 1.02)" text-anchor="middle">22</text>
<text transform="translate(433 849.5) scale(1 1.02)" text-anchor="middle">12</text>
<path d="M425.1 848.7H431.1" stroke="#232323" stroke-width="1.7" stroke-linecap="butt" fill="none"/>
<text transform="translate(443 966) scale(1 1.02)" text-anchor="middle">22</text>
<text transform="translate(611 981.5) scale(1 1.02)" text-anchor="middle">23</text>
<text transform="translate(664 974.5) scale(1 1.02)" text-anchor="middle">22</text>
<text transform="translate(949 969) scale(1 1.02)" text-anchor="middle">23</text>
<text transform="translate(403 1038.2) scale(1 1.02)" text-anchor="middle">15</text>
<path d="M395.1 1037.4H401.1" stroke="#232323" stroke-width="1.7" stroke-linecap="butt" fill="none"/>
<text transform="translate(572.5 1050.5) scale(1 1.02)" text-anchor="middle">16</text>
<path d="M564.6 1049.7H570.6" stroke="#232323" stroke-width="1.7" stroke-linecap="butt" fill="none"/>
<text transform="translate(761.7 1079.5) scale(1 1.02)" text-anchor="middle">23</text>
<text transform="translate(793 1129.5) scale(1 1.02)" text-anchor="middle">4</text>
</g>
<line x1="835.8" y1="61.7" x2="810.8" y2="80" stroke="#505050" stroke-width="1.3"/>
<line x1="636" y1="88" x2="665" y2="69" stroke="#505050" stroke-width="1.3"/>
<line x1="641" y1="132" x2="671" y2="112.5" stroke="#505050" stroke-width="1.3"/>
<line x1="770.8" y1="158" x2="763" y2="125" stroke="#505050" stroke-width="1.3"/>
<line x1="467.5" y1="139" x2="520.8" y2="167.5" stroke="#505050" stroke-width="1.3"/>
<line x1="890.8" y1="163" x2="870" y2="210" stroke="#505050" stroke-width="1.3"/>
<line x1="935.8" y1="165" x2="921.7" y2="191.7" stroke="#505050" stroke-width="1.3"/>
<line x1="771.7" y1="218" x2="739" y2="238" stroke="#505050" stroke-width="1.3"/>
<line x1="579" y1="260" x2="601" y2="291" stroke="#505050" stroke-width="1.3"/>
<line x1="622.5" y1="266" x2="673" y2="247.5" stroke="#505050" stroke-width="1.3"/>
<line x1="622.5" y1="266" x2="649" y2="269" stroke="#505050" stroke-width="1.3"/>
<line x1="335" y1="270" x2="305" y2="289" stroke="#505050" stroke-width="1.3"/>
<line x1="414.5" y1="288" x2="385" y2="307" stroke="#505050" stroke-width="1.3"/>
<line x1="500" y1="300" x2="523" y2="330.5" stroke="#505050" stroke-width="1.3"/>
<line x1="805" y1="305" x2="836.7" y2="284" stroke="#505050" stroke-width="1.3"/>
<line x1="404.6" y1="336.3" x2="373.7" y2="356" stroke="#505050" stroke-width="1.3"/>
<line x1="681" y1="284" x2="681" y2="329" stroke="#505050" stroke-width="1.3"/>
<line x1="659" y1="299" x2="680" y2="330" stroke="#505050" stroke-width="1.3"/>
<line x1="884" y1="320" x2="912.5" y2="345" stroke="#505050" stroke-width="1.3"/>
<line x1="301.7" y1="399" x2="330" y2="382.5" stroke="#505050" stroke-width="1.3"/>
<line x1="360.7" y1="433" x2="340" y2="406" stroke="#505050" stroke-width="1.3"/>
<line x1="360.7" y1="433" x2="370" y2="386.5" stroke="#505050" stroke-width="1.3"/>
<line x1="893" y1="430.8" x2="860" y2="450.8" stroke="#505050" stroke-width="1.3"/>
<line x1="667.5" y1="361" x2="702.5" y2="411.7" stroke="#505050" stroke-width="1.3"/>
<line x1="670" y1="396" x2="702.5" y2="411.7" stroke="#505050" stroke-width="1.3"/>
<line x1="679" y1="462.5" x2="648" y2="481.7" stroke="#505050" stroke-width="1.3"/>
<line x1="305.8" y1="478" x2="274" y2="498" stroke="#505050" stroke-width="1.3"/>
<line x1="431.7" y1="477.5" x2="392.5" y2="489" stroke="#505050" stroke-width="1.3"/>
<line x1="431.7" y1="477.5" x2="394" y2="525" stroke="#505050" stroke-width="1.3"/>
<line x1="515.8" y1="494" x2="540.8" y2="526.7" stroke="#505050" stroke-width="1.3"/>
<line x1="480" y1="520.8" x2="502.5" y2="550.8" stroke="#505050" stroke-width="1.3"/>
<line x1="588" y1="529" x2="622.5" y2="508" stroke="#505050" stroke-width="1.3"/>
<line x1="443" y1="536.7" x2="466.7" y2="571.7" stroke="#505050" stroke-width="1.3"/>
<line x1="740" y1="551" x2="711.7" y2="570" stroke="#505050" stroke-width="1.3"/>
<line x1="404" y1="563" x2="427.5" y2="594" stroke="#505050" stroke-width="1.3"/>
<line x1="765" y1="590" x2="735" y2="610" stroke="#505050" stroke-width="1.3"/>
<line x1="286.7" y1="589" x2="316.7" y2="570.8" stroke="#505050" stroke-width="1.3"/>
<line x1="514" y1="605.8" x2="484" y2="624" stroke="#505050" stroke-width="1.3"/>
<line x1="527.5" y1="629" x2="496.7" y2="650.8" stroke="#505050" stroke-width="1.3"/>
<line x1="572" y1="630" x2="541.7" y2="648" stroke="#505050" stroke-width="1.3"/>
<line x1="796.7" y1="645" x2="819" y2="673" stroke="#505050" stroke-width="1.3"/>
<line x1="304" y1="680" x2="334" y2="661" stroke="#505050" stroke-width="1.3"/>
<line x1="381" y1="683" x2="415.8" y2="661.7" stroke="#505050" stroke-width="1.3"/>
<line x1="419" y1="682.5" x2="460" y2="680" stroke="#505050" stroke-width="1.3"/>
<line x1="512.5" y1="677.5" x2="504" y2="690" stroke="#505050" stroke-width="1.3"/>
<line x1="571.7" y1="656.7" x2="615" y2="664" stroke="#505050" stroke-width="1.3"/>
<line x1="618" y1="709" x2="633" y2="729" stroke="#505050" stroke-width="1.3"/>
<line x1="618" y1="709" x2="598" y2="758" stroke="#505050" stroke-width="1.3"/>
<line x1="751.7" y1="687.5" x2="773" y2="715.8" stroke="#505050" stroke-width="1.3"/>
<line x1="703" y1="731.7" x2="683" y2="714" stroke="#505050" stroke-width="1.3"/>
<line x1="703" y1="731.7" x2="672.5" y2="753" stroke="#505050" stroke-width="1.3"/>
<line x1="399" y1="751.7" x2="430" y2="731.7" stroke="#505050" stroke-width="1.3"/>
<line x1="674" y1="774" x2="645.8" y2="793" stroke="#505050" stroke-width="1.3"/>
<line x1="856.7" y1="765" x2="826.7" y2="785" stroke="#505050" stroke-width="1.3"/>
<line x1="590" y1="818" x2="566.7" y2="786.7" stroke="#505050" stroke-width="1.3"/>
<line x1="590" y1="818" x2="580" y2="841.7" stroke="#505050" stroke-width="1.3"/>
<line x1="953.4" y1="826.7" x2="923" y2="847.5" stroke="#505050" stroke-width="1.3"/>
<line x1="473" y1="815" x2="486.7" y2="793" stroke="#505050" stroke-width="1.3"/>
<line x1="473" y1="815" x2="553" y2="753" stroke="#505050" stroke-width="1.3"/>
<line x1="861.7" y1="848" x2="803" y2="888" stroke="#505050" stroke-width="1.3"/>
<line x1="433" y1="854" x2="455" y2="886.7" stroke="#505050" stroke-width="1.3"/>
<line x1="455.8" y1="952.5" x2="585" y2="877.5" stroke="#505050" stroke-width="1.3"/>
<line x1="455.8" y1="952.5" x2="527.5" y2="925.8" stroke="#505050" stroke-width="1.3"/>
<line x1="599" y1="964" x2="593" y2="906.7" stroke="#505050" stroke-width="1.3"/>
<line x1="599" y1="964" x2="540" y2="948" stroke="#505050" stroke-width="1.3"/>
<line x1="677" y1="961" x2="708" y2="946.7" stroke="#505050" stroke-width="1.3"/>
<line x1="933" y1="971.7" x2="903" y2="990.5" stroke="#505050" stroke-width="1.3"/>
<line x1="419" y1="1023" x2="447.5" y2="1005.8" stroke="#505050" stroke-width="1.3"/>
<line x1="547.5" y1="1002.5" x2="569" y2="1033" stroke="#505050" stroke-width="1.3"/>
<line x1="776.7" y1="1070.8" x2="808" y2="1051.7" stroke="#505050" stroke-width="1.3"/>
<line x1="802.5" y1="1119" x2="831.7" y2="1100.8" stroke="#505050" stroke-width="1.3"/>
</svg>
</body></html>
